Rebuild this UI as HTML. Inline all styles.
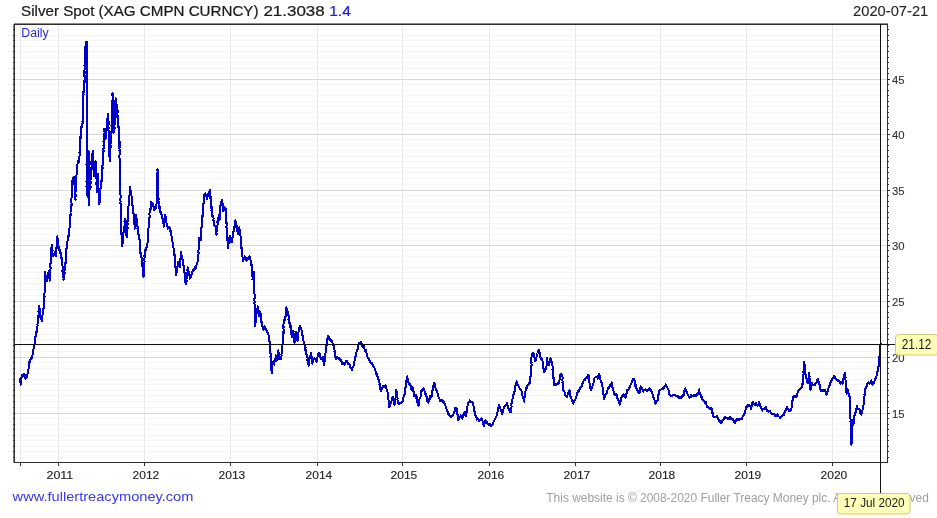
<!DOCTYPE html><html><head><meta charset="utf-8"><style>
html,body{margin:0;padding:0;background:#fff;}
body{width:937px;height:518px;overflow:hidden;position:relative;}
svg{position:absolute;left:0;top:0;}
text{font-family:"Liberation Sans",sans-serif;}
</style></head><body>
<svg width="937" height="518" viewBox="0 0 937 518">
<g shape-rendering="crispEdges">
<path d="M15 29.5H887M15 35.5H887M15 40.5H887M15 46.5H887M15 51.5H887M15 57.5H887M15 62.5H887M15 68.5H887M15 73.5H887M15 84.5H887M15 90.5H887M15 95.5H887M15 101.5H887M15 106.5H887M15 112.5H887M15 117.5H887M15 123.5H887M15 129.5H887M15 139.5H887M15 145.5H887M15 150.5H887M15 156.5H887M15 161.5H887M15 167.5H887M15 172.5H887M15 178.5H887M15 184.5H887M15 195.5H887M15 201.5H887M15 206.5H887M15 212.5H887M15 217.5H887M15 223.5H887M15 228.5H887M15 234.5H887M15 240.5H887M15 250.5H887M15 256.5H887M15 261.5H887M15 267.5H887M15 272.5H887M15 278.5H887M15 283.5H887M15 289.5H887M15 295.5H887M15 306.5H887M15 312.5H887M15 317.5H887M15 323.5H887M15 328.5H887M15 334.5H887M15 339.5H887M15 345.5H887M15 351.5H887M15 362.5H887M15 368.5H887M15 373.5H887M15 379.5H887M15 384.5H887M15 390.5H887M15 395.5H887M15 401.5H887M15 407.5H887M15 418.5H887M15 424.5H887M15 429.5H887M15 435.5H887M15 440.5H887M15 446.5H887M15 451.5H887M15 457.5H887" stroke="#f5f5f5" stroke-width="1" fill="none"/>
<path d="M20.5 25V462M58.5 25V462M144.5 25V462M230.5 25V462M317.5 25V462M402.5 25V462M489.5 25V462M575.5 25V462M660.5 25V462M746.5 25V462M832.5 25V462" stroke="#e9e9e9" stroke-width="1" fill="none"/>
<path d="M15 79.5H887M15 134.5H887M15 190.5H887M15 245.5H887M15 301.5H887M15 357.5H887M15 413.5H887" stroke="#d8d8d8" stroke-width="1" fill="none"/>
<path d="M14 23.5H888M13.5 24V463" stroke="#8a8a8a" stroke-width="1"/>
<path d="M14.5 24.5H887.5M14.5 24V462.5H887.5M887.5 24V463" stroke="#2e2e2e" stroke-width="1" fill="none"/>
<path d="M13 29.5H14M13 35.5H14M13 40.5H14M13 46.5H14M13 51.5H14M13 57.5H14M13 62.5H14M13 68.5H14M13 73.5H14M13 84.5H14M13 90.5H14M13 95.5H14M13 101.5H14M13 106.5H14M13 112.5H14M13 117.5H14M13 123.5H14M13 129.5H14M13 139.5H14M13 145.5H14M13 150.5H14M13 156.5H14M13 161.5H14M13 167.5H14M13 172.5H14M13 178.5H14M13 184.5H14M13 195.5H14M13 201.5H14M13 206.5H14M13 212.5H14M13 217.5H14M13 223.5H14M13 228.5H14M13 234.5H14M13 240.5H14M13 250.5H14M13 256.5H14M13 261.5H14M13 267.5H14M13 272.5H14M13 278.5H14M13 283.5H14M13 289.5H14M13 295.5H14M13 306.5H14M13 312.5H14M13 317.5H14M13 323.5H14M13 328.5H14M13 334.5H14M13 339.5H14M13 345.5H14M13 351.5H14M13 362.5H14M13 368.5H14M13 373.5H14M13 379.5H14M13 384.5H14M13 390.5H14M13 395.5H14M13 401.5H14M13 407.5H14M13 418.5H14M13 424.5H14M13 429.5H14M13 435.5H14M13 440.5H14M13 446.5H14M13 451.5H14M13 457.5H14M13 79.5H14M13 134.5H14M13 190.5H14M13 245.5H14M13 301.5H14M13 357.5H14M13 413.5H14" stroke="#2e2e2e" stroke-width="1"/>
<path d="M888 29.5H889M888 35.5H889M888 40.5H889M888 46.5H889M888 51.5H889M888 57.5H889M888 62.5H889M888 68.5H889M888 73.5H889M888 84.5H889M888 90.5H889M888 95.5H889M888 101.5H889M888 106.5H889M888 112.5H889M888 117.5H889M888 123.5H889M888 129.5H889M888 139.5H889M888 145.5H889M888 150.5H889M888 156.5H889M888 161.5H889M888 167.5H889M888 172.5H889M888 178.5H889M888 184.5H889M888 195.5H889M888 201.5H889M888 206.5H889M888 212.5H889M888 217.5H889M888 223.5H889M888 228.5H889M888 234.5H889M888 240.5H889M888 250.5H889M888 256.5H889M888 261.5H889M888 267.5H889M888 272.5H889M888 278.5H889M888 283.5H889M888 289.5H889M888 295.5H889M888 306.5H889M888 312.5H889M888 317.5H889M888 323.5H889M888 328.5H889M888 334.5H889M888 339.5H889M888 345.5H889M888 351.5H889M888 362.5H889M888 368.5H889M888 373.5H889M888 379.5H889M888 384.5H889M888 390.5H889M888 395.5H889M888 401.5H889M888 407.5H889M888 418.5H889M888 424.5H889M888 429.5H889M888 435.5H889M888 440.5H889M888 446.5H889M888 451.5H889M888 457.5H889M888 79.5H890M888 134.5H890M888 190.5H890M888 245.5H890M888 301.5H890M888 357.5H890M888 413.5H890" stroke="#2e2e2e" stroke-width="1"/>
<path d="M20.5 463V466M58.5 463V466M144.5 463V466M230.5 463V466M317.5 463V466M402.5 463V466M489.5 463V466M575.5 463V466M660.5 463V466M746.5 463V466M832.5 463V466" stroke="#2e2e2e" stroke-width="1"/>
</g>
<path d="M19.8 377.8 L20.0 378.1 L20.1 379.5 L20.0 380.7 L20.7 382.4 L20.4 382.8 L20.8 384.6 L21.2 382.8 L21.2 381.0 L21.2 380.6 L21.2 379.4 L21.4 377.7 L21.7 377.9 L22.0 376.6 L22.0 375.7 L22.3 375.0 L22.6 375.6 L22.8 376.2 L23.7 374.6 L23.9 374.2 L24.4 374.5 L24.7 374.6 L24.9 376.8 L25.4 378.0 L25.6 378.8 L26.1 377.0 L26.7 377.1 L26.6 377.2 L27.2 375.0 L27.5 374.0 L27.5 372.0 L28.1 371.5 L28.0 369.6 L28.4 369.1 L28.6 368.4 L28.5 367.0 L28.6 365.4 L29.0 364.3 L29.1 364.2 L29.5 361.3 L29.9 361.5 L30.3 361.6 L30.4 359.5 L31.0 359.4 L31.1 358.0 L31.7 357.0 L31.7 356.5 L32.4 357.6 L32.3 356.2 L32.6 354.3 L32.7 353.6 L33.4 353.3 L33.3 351.4 L33.2 349.7 L33.4 349.0 L33.5 349.1 L34.3 346.5 L33.9 347.1 L34.3 346.0 L34.3 344.5 L35.0 344.5 L35.0 342.4 L35.1 341.0 L35.1 339.2 L34.9 337.9 L35.3 336.1 L35.7 336.0 L35.7 336.8 L36.2 336.4 L35.9 334.7 L36.2 332.5 L36.5 330.7 L36.8 331.9 L36.7 330.7 L37.1 328.8 L37.3 327.5 L37.2 327.3 L37.8 325.4 L37.4 324.7 L37.8 322.8 L38.1 320.8 L37.8 320.7 L37.9 318.4 L38.2 317.9 L38.1 316.2 L38.6 315.3 L38.3 315.4 L38.7 315.4 L38.8 313.8 L38.6 312.4 L38.4 311.8 L38.6 310.5 L39.1 308.3 L38.9 308.2 L39.1 308.2 L39.1 305.4 L39.2 307.4 L39.4 307.7 L39.6 309.1 L39.7 309.4 L40.1 310.4 L40.2 312.6 L39.9 314.8 L40.5 315.1 L40.0 317.4 L40.4 317.0 L40.4 317.5 L40.7 319.0 L41.4 319.8 L41.7 319.4 L42.0 321.0 L42.4 320.8 L42.2 317.3 L42.3 317.9 L42.4 315.0 L42.3 315.2 L42.7 314.7 L42.8 311.8 L43.0 312.0 L42.9 309.7 L43.6 308.3 L43.3 309.3 L43.9 306.9 L43.9 306.9 L43.6 303.2 L44.0 303.6 L44.5 301.0 L44.3 301.6 L44.1 300.2 L44.2 299.2 L44.2 296.4 L44.3 296.1 L44.4 296.2 L44.5 297.2 L44.5 296.0 L44.4 294.1 L44.5 292.9 L44.9 292.0 L44.9 290.0 L44.6 288.2 L45.1 287.9 L44.7 287.8 L45.1 286.4 L45.0 287.9 L44.7 285.0 L44.9 283.1 L44.9 282.0 L45.2 280.9 L44.9 282.4 L45.2 279.0 L44.8 276.9 L44.8 274.7 L44.9 275.9 L44.9 274.1 L44.7 272.0 L44.9 272.1 L45.3 274.0 L45.7 275.4 L45.5 275.8 L45.7 278.5 L46.3 278.8 L46.6 277.8 L46.7 281.5 L46.9 280.8 L47.4 279.9 L47.5 279.2 L47.2 276.1 L47.6 275.4 L48.2 275.0 L48.3 274.4 L48.5 273.7 L48.2 272.9 L48.8 271.1 L48.7 273.3 L49.4 273.7 L49.1 273.6 L49.4 274.8 L49.4 276.7 L49.2 277.5 L49.4 277.3 L49.6 279.8 L49.8 280.8 L49.8 278.6 L50.2 279.7 L49.8 277.6 L50.3 276.3 L50.1 275.4 L50.2 273.8 L49.9 274.2 L50.3 272.6 L50.4 271.3 L50.6 267.9 L50.1 267.5 L50.5 264.8 L50.4 265.1 L50.5 263.4 L50.9 262.6 L50.7 263.4 L51.0 260.8 L51.1 261.1 L50.7 259.8 L50.7 259.5 L51.3 257.7 L51.3 258.8 L51.4 256.4 L51.2 256.5 L50.9 254.3 L51.3 252.8 L51.4 252.0 L51.1 250.2 L51.2 250.9 L51.4 247.9 L51.7 246.7 L51.5 247.4 L51.7 245.0 L52.1 247.0 L51.6 246.3 L51.7 246.0 L51.8 247.3 L52.0 248.2 L52.6 250.5 L52.3 252.5 L52.5 253.8 L52.5 254.3 L52.7 255.7 L52.9 256.4 L53.3 254.1 L53.8 254.0 L54.5 254.7 L54.6 251.8 L55.2 251.7 L55.4 255.6 L55.9 255.7 L56.2 253.4 L56.4 253.0 L56.0 252.2 L56.1 250.6 L56.5 251.7 L56.1 248.1 L56.6 248.9 L56.4 247.5 L56.4 247.4 L56.8 245.8 L57.0 245.9 L56.9 244.6 L56.9 242.6 L57.3 243.5 L56.9 240.0 L57.4 238.8 L57.2 236.9 L57.5 236.4 L57.4 237.1 L57.6 238.8 L57.6 239.8 L58.1 239.5 L58.3 240.8 L57.9 243.4 L58.1 243.8 L58.6 246.2 L58.3 246.4 L58.5 247.9 L58.9 246.9 L59.6 251.0 L59.8 249.9 L60.1 253.3 L60.9 252.8 L61.0 253.7 L61.0 254.3 L61.0 257.4 L61.2 258.3 L61.7 257.3 L61.6 259.6 L61.8 258.9 L61.9 261.5 L61.8 262.2 L62.2 264.2 L62.4 264.2 L62.2 265.7 L62.6 266.4 L62.6 270.1 L62.3 271.2 L62.7 269.5 L63.2 273.2 L62.8 272.7 L63.1 273.8 L62.9 276.5 L63.4 277.3 L63.6 278.8 L63.4 279.1 L63.5 279.4 L63.7 279.8 L63.5 277.7 L64.0 275.5 L64.1 276.0 L64.2 274.1 L64.5 273.7 L64.8 272.7 L64.4 271.7 L64.6 270.8 L64.8 267.9 L64.9 268.2 L65.2 267.3 L65.1 264.1 L65.4 265.6 L65.4 264.9 L65.5 264.4 L65.8 262.6 L65.4 263.2 L65.8 260.9 L65.7 257.4 L65.7 257.3 L66.1 256.2 L65.9 256.4 L66.0 253.8 L66.0 254.0 L66.1 252.2 L66.4 252.6 L66.2 248.4 L66.6 248.6 L66.4 249.0 L66.9 245.5 L66.8 246.0 L67.4 246.0 L67.0 242.9 L67.2 243.0 L67.9 239.1 L68.1 240.5 L68.3 238.9 L68.0 238.6 L68.5 235.6 L68.7 236.4 L69.1 235.4 L68.7 231.3 L69.4 233.3 L68.8 231.3 L69.2 231.1 L69.4 230.5 L69.2 229.4 L69.4 228.6 L69.9 224.9 L69.6 225.0 L69.8 222.5 L70.0 222.8 L70.1 221.4 L70.0 220.4 L70.3 219.0 L70.4 218.3 L70.4 217.1 L70.6 213.3 L70.4 214.6 L70.9 214.7 L70.5 212.6 L70.6 211.4 L70.9 209.4 L71.0 209.3 L70.8 210.5 L71.4 209.7 L71.4 208.2 L71.5 205.5 L71.5 205.4 L71.0 205.8 L71.6 204.3 L71.3 199.8 L71.2 201.0 L71.3 200.6 L71.5 197.7 L71.8 195.4 L71.6 194.3 L71.6 194.6 L71.8 192.8 L72.1 190.6 L72.2 188.0 L71.8 189.2 L71.8 188.1 L72.1 187.6 L72.3 184.7 L71.9 184.0 L71.9 184.8 L72.1 185.4 L72.3 182.5 L72.4 180.6 L72.9 178.4 L73.5 179.1 L73.9 177.9 L73.7 177.5 L74.2 176.5 L74.3 180.1 L74.1 179.8 L74.4 179.8 L74.3 182.7 L74.4 183.9 L74.7 186.6 L74.9 185.1 L74.7 186.0 L74.6 188.7 L75.0 188.6 L75.0 190.4 L74.8 194.2 L75.2 192.4 L75.3 193.9 L75.0 195.4 L75.2 195.8 L75.4 198.7 L75.7 199.6 L75.3 199.0 L75.5 197.5 L75.6 196.0 L75.7 194.4 L75.4 195.7 L75.3 194.2 L75.5 190.1 L76.1 190.6 L75.7 188.7 L75.7 188.0 L76.2 185.0 L76.1 185.2 L76.3 184.3 L76.0 182.0 L76.4 180.5 L75.9 178.9 L75.9 176.9 L76.4 177.7 L76.5 175.2 L76.5 170.7 L76.7 171.1 L76.8 171.1 L76.9 167.0 L77.0 169.2 L76.5 166.1 L76.5 166.4 L77.1 168.8 L77.2 167.0 L77.0 165.5 L77.2 165.4 L77.7 162.6 L78.0 161.1 L78.5 162.4 L78.7 162.1 L78.8 158.9 L79.2 158.6 L79.3 157.4 L79.1 157.7 L79.5 156.0 L79.8 154.6 L79.9 153.0 L79.4 152.3 L79.6 152.4 L79.8 149.6 L79.9 148.5 L80.0 150.0 L79.7 146.6 L79.7 145.6 L79.6 146.5 L79.6 144.1 L79.8 140.5 L80.0 142.5 L80.0 140.8 L80.3 139.1 L80.2 137.2 L80.5 138.6 L80.5 135.8 L80.5 136.4 L80.7 132.2 L81.2 133.2 L80.8 128.7 L81.1 127.6 L81.1 128.2 L81.2 127.1 L81.6 128.0 L81.8 125.4 L82.3 126.5 L82.3 124.8 L82.6 122.8 L82.4 121.9 L82.9 123.2 L82.8 122.9 L82.8 122.6 L82.7 120.5 L82.8 118.3 L82.7 115.1 L82.9 117.9 L82.6 115.9 L82.8 113.1 L82.8 112.3 L83.1 110.8 L83.0 108.4 L82.8 110.8 L83.2 107.5 L83.0 105.3 L83.1 105.6 L83.0 107.4 L83.0 101.6 L83.0 101.6 L83.4 97.7 L82.9 97.5 L83.2 95.0 L83.3 92.8 L83.6 94.2 L83.3 92.1 L83.8 88.8 L83.7 92.2 L84.0 88.4 L83.6 89.6 L84.1 86.4 L84.0 88.0 L83.9 86.9 L83.9 84.9 L84.3 80.8 L84.0 81.3 L84.2 80.7 L84.3 82.5 L84.2 81.8 L84.5 83.0 L84.5 78.8 L84.6 80.0 L84.6 74.8 L84.1 76.2 L84.8 71.9 L84.3 73.7 L84.3 70.6 L84.8 69.4 L84.6 70.0 L84.8 68.7 L84.9 67.1 L84.5 67.3 L84.5 66.3 L84.4 65.7 L84.5 65.7 L84.8 66.7 L85.1 64.8 L85.1 60.5 L84.9 60.8 L85.2 59.1 L84.9 57.4 L84.7 57.5 L85.0 55.0 L85.0 55.7 L84.8 56.0 L85.2 53.3 L85.5 52.1 L85.2 51.7 L85.5 50.9 L85.3 46.6 L85.4 46.0 L85.5 48.3 L85.5 44.0 L86.1 42.9 L85.9 41.6 L86.6 41.6 L86.8 42.4 L86.7 43.2 L86.7 42.4 L86.7 44.6 L86.5 45.1 L86.7 47.3 L86.4 47.6 L86.4 44.6 L87.0 49.9 L86.7 50.8 L87.0 53.5 L86.6 52.4 L86.8 53.0 L86.8 54.3 L87.2 57.5 L86.9 55.7 L86.9 60.0 L87.1 61.0 L87.2 61.6 L87.2 61.8 L86.6 65.3 L87.0 62.0 L86.6 67.4 L87.1 65.6 L87.2 66.9 L86.6 69.4 L87.0 68.0 L87.1 68.2 L87.2 68.8 L87.1 70.7 L86.9 72.5 L87.2 72.6 L87.2 75.7 L86.8 74.5 L87.3 73.2 L87.2 77.2 L87.1 77.9 L87.2 81.8 L86.9 82.8 L87.3 84.6 L87.2 86.9 L87.3 89.8 L86.9 91.9 L86.9 89.3 L87.1 92.1 L87.3 94.2 L87.3 91.6 L87.3 95.5 L86.9 96.8 L87.3 99.5 L87.4 99.4 L86.8 97.1 L87.3 98.9 L87.1 99.3 L87.0 101.8 L87.3 104.8 L87.4 105.8 L86.8 104.2 L86.8 104.0 L86.7 103.7 L87.3 106.0 L87.4 106.7 L86.7 109.5 L87.0 110.5 L87.4 109.8 L87.1 110.4 L87.3 114.2 L86.9 116.1 L86.8 116.2 L87.3 118.7 L86.7 115.1 L86.9 115.4 L87.3 119.7 L86.7 119.8 L87.1 119.5 L87.3 120.0 L86.7 118.8 L87.3 123.1 L86.8 124.3 L87.1 126.0 L86.8 124.3 L86.7 126.7 L86.7 127.8 L86.7 128.3 L86.6 131.2 L86.7 132.6 L87.2 131.5 L87.2 133.2 L87.2 137.8 L86.8 136.5 L87.2 137.4 L87.0 140.9 L86.7 139.7 L86.8 141.7 L86.6 141.7 L86.5 141.0 L86.9 146.4 L87.1 145.6 L86.8 147.7 L86.7 147.5 L86.7 150.7 L86.8 150.0 L86.6 152.0 L86.5 151.2 L86.8 153.3 L86.6 154.3 L86.9 157.9 L86.9 160.8 L86.5 160.8 L86.7 164.1 L86.5 164.6 L86.7 165.3 L87.1 165.6 L86.5 165.2 L86.8 167.5 L86.6 168.7 L87.0 165.5 L86.6 168.6 L86.9 171.1 L86.8 170.6 L86.8 173.5 L87.0 173.4 L87.1 177.0 L86.9 175.8 L87.0 176.8 L87.1 175.8 L86.8 180.0 L86.8 179.2 L86.5 180.3 L86.6 182.0 L86.5 180.0 L87.0 181.1 L86.5 181.5 L86.6 184.0 L86.9 182.6 L86.8 186.2 L86.5 187.9 L87.0 189.0 L86.5 186.4 L86.8 188.7 L86.5 189.2 L86.8 192.0 L87.3 191.9 L87.4 195.6 L88.0 195.0 L88.0 196.7 L88.1 197.1 L88.7 197.9 L88.8 200.1 L88.9 202.1 L88.8 201.5 L89.2 205.3 L89.0 204.0 L89.1 202.7 L89.0 204.8 L89.0 202.1 L88.7 201.7 L88.7 198.8 L88.9 198.2 L88.8 197.2 L89.0 194.8 L89.0 196.8 L89.0 195.3 L89.1 193.1 L89.0 194.3 L88.9 193.6 L88.7 192.6 L88.9 190.9 L89.0 191.1 L88.8 187.5 L88.7 189.7 L88.9 187.5 L89.2 185.3 L89.1 183.9 L88.6 182.3 L88.8 183.3 L88.8 178.0 L89.0 178.0 L88.6 175.5 L89.0 177.1 L88.7 172.6 L88.9 172.3 L89.1 172.8 L88.8 172.4 L88.8 170.0 L89.1 171.4 L88.7 169.9 L88.8 167.3 L88.7 167.7 L88.9 164.9 L88.7 164.4 L89.1 164.0 L88.9 162.6 L88.8 160.4 L89.0 159.6 L88.6 160.5 L88.8 161.1 L89.2 159.1 L88.8 156.9 L89.3 154.2 L88.7 151.2 L89.0 152.0 L89.1 152.2 L89.3 153.9 L89.1 158.0 L89.2 156.8 L89.1 157.7 L89.4 156.7 L89.1 155.8 L89.5 160.2 L89.0 159.5 L89.5 161.7 L89.7 162.2 L89.4 164.7 L89.3 162.2 L89.5 166.4 L89.3 166.2 L89.6 168.5 L89.6 170.0 L90.0 171.6 L89.6 171.5 L89.4 172.7 L89.4 176.0 L89.5 174.5 L90.0 176.1 L90.0 178.1 L89.5 176.9 L89.7 181.5 L89.8 183.0 L89.7 182.2 L90.2 183.5 L89.9 185.5 L89.9 185.9 L90.3 185.2 L90.4 187.2 L90.2 187.8 L90.1 189.0 L90.1 188.2 L90.0 188.9 L90.6 186.8 L90.6 187.7 L90.2 185.3 L90.3 184.2 L90.4 186.9 L90.4 184.7 L90.6 183.1 L90.5 180.3 L91.1 177.2 L90.8 175.4 L91.0 175.0 L91.4 173.1 L90.9 173.7 L90.9 172.4 L91.0 172.5 L91.3 171.8 L91.1 168.2 L91.2 168.7 L91.2 169.6 L91.5 167.7 L91.7 166.0 L91.7 165.6 L91.5 164.9 L91.4 161.8 L92.0 160.5 L91.9 160.1 L91.9 157.8 L91.9 157.0 L91.6 156.6 L92.0 155.0 L92.5 153.0 L92.5 151.4 L92.9 150.8 L92.6 151.2 L92.8 152.0 L93.0 154.7 L92.9 153.8 L92.9 157.5 L93.2 159.7 L93.0 161.4 L93.4 161.6 L93.0 162.0 L93.5 164.3 L93.1 162.4 L93.5 166.1 L93.3 164.0 L93.7 164.7 L93.9 166.5 L93.3 169.0 L93.6 169.6 L93.9 170.5 L93.5 171.0 L93.8 175.7 L94.0 176.5 L93.9 174.8 L93.7 174.7 L94.3 172.2 L94.2 169.0 L94.3 170.1 L94.1 168.7 L94.3 166.3 L94.2 165.8 L94.3 164.9 L94.6 165.0 L94.7 163.0 L95.2 162.9 L95.5 160.9 L95.8 163.5 L95.5 161.8 L95.5 163.2 L95.6 164.5 L95.9 166.5 L95.6 169.2 L95.9 169.0 L95.7 171.3 L95.7 169.9 L96.2 173.9 L96.3 172.1 L96.2 177.3 L96.2 174.4 L96.3 176.3 L96.2 178.3 L96.5 177.3 L96.7 180.8 L96.7 179.6 L96.7 184.0 L96.4 182.9 L96.5 184.7 L96.7 183.1 L97.0 184.0 L96.5 184.3 L96.9 186.6 L97.0 189.1 L97.3 191.8 L97.0 191.8 L97.3 191.2 L97.0 190.1 L97.3 187.8 L97.1 188.1 L97.2 186.3 L97.5 186.4 L97.1 186.2 L97.4 182.7 L97.3 180.9 L97.2 179.3 L97.5 179.0 L97.9 180.5 L98.0 178.8 L97.8 178.4 L97.4 176.9 L97.8 174.8 L98.0 174.0 L98.0 175.4 L98.0 176.4 L98.0 179.0 L97.9 179.3 L98.2 183.0 L98.5 181.0 L98.0 182.2 L98.1 183.6 L98.4 185.8 L98.5 186.5 L98.5 187.3 L98.2 189.9 L98.6 190.0 L98.7 192.4 L98.5 193.0 L98.5 192.9 L98.7 192.6 L98.9 191.9 L98.8 193.3 L98.9 196.1 L99.1 197.5 L99.1 199.6 L99.4 200.8 L99.4 200.3 L99.4 202.8 L99.3 204.1 L99.7 202.3 L99.3 203.0 L99.5 199.4 L99.7 201.4 L99.3 198.6 L100.0 197.7 L99.9 195.6 L100.0 195.2 L99.7 194.5 L100.1 195.2 L100.4 193.7 L99.9 192.7 L100.3 190.0 L100.2 188.7 L100.5 189.4 L100.8 187.0 L100.7 183.2 L101.3 182.7 L100.8 182.9 L101.2 181.0 L101.5 182.2 L101.5 180.6 L101.7 179.4 L101.9 179.9 L101.7 177.9 L102.2 178.4 L102.1 178.1 L102.2 172.6 L102.1 173.7 L102.1 172.7 L102.2 171.5 L102.2 168.4 L102.8 167.9 L102.4 167.3 L102.4 166.3 L102.4 165.6 L103.0 164.3 L102.7 163.1 L102.7 162.2 L102.6 159.9 L102.9 159.4 L103.1 158.7 L103.0 158.0 L103.2 156.3 L102.9 153.4 L103.2 153.0 L103.2 153.6 L103.2 151.9 L103.7 151.9 L103.3 149.1 L103.9 147.4 L103.4 145.0 L104.0 145.9 L103.5 141.7 L103.9 140.8 L104.0 143.3 L103.7 142.9 L104.0 140.8 L104.1 138.6 L104.0 137.9 L103.9 137.4 L104.3 137.6 L104.1 136.0 L104.6 133.0 L104.2 130.1 L104.3 129.0 L104.4 130.6 L104.7 130.7 L104.8 128.6 L104.8 130.3 L105.4 131.6 L105.0 130.8 L105.6 132.3 L105.0 131.8 L105.6 134.4 L105.5 137.1 L105.5 139.0 L105.8 138.3 L105.7 134.5 L106.3 135.9 L105.7 132.2 L105.9 134.0 L106.2 133.9 L106.2 132.3 L106.3 132.3 L106.7 128.9 L106.7 126.8 L106.7 126.3 L106.7 126.7 L106.8 123.1 L106.7 122.7 L107.2 124.6 L107.5 121.8 L107.3 118.7 L107.7 118.2 L107.4 121.0 L107.9 118.8 L107.7 115.7 L107.9 116.0 L108.1 113.8 L107.7 114.6 L107.7 118.5 L108.3 119.1 L108.4 120.8 L107.8 122.2 L108.4 118.6 L107.9 120.5 L108.1 121.1 L108.0 123.3 L108.7 121.6 L108.6 124.8 L108.4 125.2 L108.4 125.8 L108.6 128.6 L108.7 127.4 L108.3 129.7 L108.6 130.1 L108.5 135.0 L109.0 134.5 L108.7 138.3 L108.6 139.3 L109.1 141.5 L108.8 141.8 L108.6 143.1 L108.6 147.1 L109.3 146.9 L109.1 147.1 L108.9 149.7 L108.9 150.5 L109.4 153.4 L108.9 155.5 L109.1 155.8 L109.4 157.0 L109.7 156.6 L109.6 155.6 L109.5 159.2 L109.9 159.2 L109.6 158.2 L109.5 159.4 L109.6 161.4 L109.7 161.0 L109.5 158.0 L109.8 159.7 L109.9 156.9 L109.8 156.6 L110.2 152.6 L110.2 152.1 L110.4 152.8 L109.9 153.1 L110.5 150.2 L110.1 152.7 L110.2 148.1 L110.4 147.2 L110.6 148.2 L110.6 146.0 L110.3 144.5 L110.8 143.2 L110.6 139.8 L110.7 143.4 L110.8 140.8 L110.7 141.4 L111.3 138.5 L111.1 136.2 L111.3 137.9 L110.9 135.1 L111.2 134.4 L111.3 134.1 L111.6 131.6 L111.4 132.4 L111.6 130.0 L111.8 130.8 L111.5 126.4 L111.9 126.1 L111.4 125.8 L111.8 127.4 L111.9 124.9 L111.8 126.6 L111.9 122.0 L111.9 123.6 L112.1 125.0 L111.6 123.9 L111.9 120.8 L112.3 117.7 L111.8 117.0 L111.8 116.1 L112.1 118.7 L112.0 115.6 L111.9 113.9 L112.3 116.6 L111.9 114.8 L111.8 111.4 L112.1 112.4 L112.2 110.5 L112.1 108.3 L112.0 108.7 L112.3 107.4 L112.2 103.2 L112.3 102.8 L112.2 102.0 L112.6 99.2 L112.5 97.2 L112.5 98.3 L112.8 96.1 L112.7 94.7 L112.5 93.1 L112.4 95.4 L112.8 98.2 L112.9 98.5 L113.2 98.7 L113.0 98.3 L113.3 100.0 L113.4 100.8 L113.3 100.8 L113.3 101.8 L113.3 105.2 L113.0 106.4 L113.1 108.2 L113.7 110.1 L113.3 109.2 L113.2 106.5 L113.3 110.1 L113.1 111.8 L113.6 112.8 L113.4 114.2 L113.1 112.6 L113.6 115.7 L113.2 119.6 L113.0 122.5 L113.7 122.6 L113.7 122.4 L113.0 125.3 L113.3 124.4 L113.5 124.7 L113.6 125.0 L113.1 126.4 L113.1 129.2 L113.6 129.8 L113.4 131.3 L113.4 129.6 L113.5 131.6 L113.5 130.6 L113.4 133.0 L113.6 132.5 L114.3 130.0 L114.5 129.6 L114.6 127.8 L114.3 127.9 L114.4 125.3 L114.4 127.4 L114.2 128.3 L114.4 125.0 L114.8 124.0 L114.4 123.4 L114.8 120.5 L114.4 121.9 L114.9 118.1 L114.7 117.6 L114.8 116.9 L114.6 116.7 L114.9 116.0 L114.7 113.3 L115.2 110.5 L114.8 111.0 L114.8 108.5 L114.9 107.4 L115.5 106.7 L115.4 108.6 L115.3 105.2 L115.6 106.9 L115.4 103.7 L115.5 100.0 L115.6 103.4 L115.6 99.1 L115.5 98.0 L116.0 101.2 L116.3 100.0 L116.2 103.2 L116.4 104.8 L116.1 105.5 L116.6 107.8 L116.7 104.2 L116.2 106.5 L116.3 107.9 L116.8 110.0 L116.7 110.7 L116.7 109.9 L116.7 112.4 L116.6 113.0 L117.0 111.3 L117.1 110.3 L117.4 110.8 L117.4 108.0 L117.4 110.1 L117.7 112.0 L117.6 110.8 L117.8 111.9 L117.4 113.6 L117.5 118.3 L117.9 115.5 L117.9 117.4 L117.7 117.0 L117.7 120.1 L117.5 121.8 L117.5 121.3 L117.5 122.3 L118.1 121.4 L118.1 123.2 L117.9 125.0 L118.1 127.6 L118.7 126.4 L118.7 130.0 L118.8 130.0 L119.0 131.1 L119.0 134.2 L119.3 135.4 L119.3 136.1 L119.4 136.2 L119.3 134.8 L119.2 140.2 L119.4 140.3 L119.3 141.0 L119.4 142.8 L119.3 145.1 L119.8 142.2 L119.8 144.6 L119.7 147.3 L119.3 146.4 L119.5 149.1 L119.7 149.2 L119.4 150.8 L119.9 150.8 L119.5 154.0 L119.5 155.0 L119.3 157.2 L119.7 159.3 L120.0 158.4 L119.5 159.0 L119.7 158.4 L119.9 162.8 L120.0 162.2 L119.6 161.6 L120.1 164.8 L119.9 165.2 L119.7 166.0 L120.0 167.5 L119.8 167.4 L119.7 170.0 L120.1 169.2 L119.9 170.5 L120.2 170.7 L119.8 171.0 L119.9 171.6 L120.2 173.2 L120.0 174.8 L120.0 175.3 L120.2 174.6 L120.2 177.0 L120.1 175.9 L120.0 178.5 L120.3 180.7 L120.3 181.9 L120.3 182.9 L120.2 181.8 L120.2 184.9 L119.8 183.9 L120.4 186.1 L119.9 186.2 L119.9 186.9 L120.5 190.3 L120.1 193.8 L120.2 193.3 L120.2 194.4 L120.3 194.8 L120.5 195.0 L120.5 198.0 L120.2 199.7 L120.1 200.7 L120.2 200.2 L120.6 201.4 L120.4 203.8 L120.3 203.7 L120.4 203.7 L120.7 203.5 L120.6 206.6 L120.8 206.8 L120.5 208.0 L120.8 210.4 L120.9 212.2 L121.0 212.6 L120.9 212.3 L120.6 211.8 L121.1 212.7 L121.0 217.1 L120.8 216.8 L121.0 218.6 L120.8 222.5 L120.8 219.5 L121.3 222.5 L121.0 225.1 L120.8 224.4 L121.3 225.6 L121.5 227.4 L121.4 229.8 L121.2 228.6 L121.5 230.0 L121.0 228.0 L121.4 229.6 L121.1 231.5 L121.7 234.2 L121.3 233.6 L121.7 235.8 L121.6 234.6 L122.0 237.9 L121.9 240.0 L121.7 240.5 L121.9 243.5 L122.1 240.7 L121.9 242.6 L122.2 244.8 L122.2 246.0 L122.3 245.2 L122.7 242.1 L122.2 242.0 L123.0 239.9 L122.7 239.2 L123.1 240.0 L123.1 238.6 L122.8 235.4 L123.4 237.6 L123.0 233.5 L123.7 232.4 L123.5 232.5 L123.8 231.0 L123.8 229.7 L124.1 229.0 L124.3 230.9 L124.4 226.3 L124.5 227.1 L124.5 225.2 L124.8 224.2 L124.4 221.2 L124.7 221.3 L124.6 219.1 L125.1 219.0 L124.9 221.2 L125.1 220.8 L125.1 223.2 L125.8 224.4 L125.2 225.2 L125.4 223.9 L125.8 227.1 L125.8 227.6 L126.0 228.1 L126.3 229.8 L126.3 231.4 L126.4 234.0 L125.9 234.4 L126.6 235.4 L126.7 236.0 L126.8 236.3 L126.6 237.3 L126.9 234.6 L127.0 235.2 L126.8 234.0 L127.1 231.2 L127.0 230.3 L127.0 229.7 L126.8 231.0 L127.2 228.8 L127.5 228.5 L127.5 226.8 L127.6 227.4 L127.2 223.9 L127.7 224.3 L127.3 220.5 L127.9 221.5 L127.6 218.1 L127.8 218.5 L127.9 218.2 L127.6 215.8 L128.0 214.0 L127.8 214.4 L128.0 213.2 L128.1 211.9 L128.3 213.5 L128.5 209.4 L128.2 207.6 L128.5 206.2 L128.6 205.9 L128.5 204.9 L128.8 204.9 L128.6 203.7 L128.9 202.7 L129.4 201.6 L129.3 199.7 L129.3 200.2 L129.5 197.6 L129.2 195.6 L129.8 193.9 L129.9 193.7 L129.8 193.3 L129.9 191.1 L129.7 189.7 L129.6 189.5 L130.1 187.2 L129.9 186.6 L130.0 186.6 L130.4 188.4 L130.0 187.6 L130.3 189.7 L130.9 191.5 L130.6 190.9 L130.9 193.9 L131.2 193.8 L131.1 194.0 L131.6 196.2 L131.8 197.7 L131.9 201.0 L131.8 199.4 L131.9 203.0 L132.1 201.6 L132.3 205.4 L132.2 204.9 L132.5 206.2 L132.8 205.2 L132.8 207.4 L132.8 209.3 L132.8 210.2 L133.2 209.2 L132.9 213.2 L133.0 211.8 L133.1 213.6 L133.6 213.8 L133.9 215.6 L133.8 215.4 L134.1 215.8 L133.8 217.6 L134.3 219.5 L134.4 219.6 L133.9 221.0 L134.0 223.5 L134.3 224.2 L134.7 222.1 L134.4 224.1 L134.7 226.1 L134.7 228.6 L135.2 225.7 L134.7 225.1 L135.2 225.0 L134.9 225.5 L135.1 223.1 L135.5 223.7 L135.9 221.8 L136.0 221.3 L135.7 221.6 L136.0 219.3 L136.5 214.7 L136.3 215.1 L136.2 215.3 L136.6 218.2 L136.9 219.8 L136.5 221.2 L137.1 219.9 L136.7 223.8 L136.9 225.0 L137.1 223.9 L137.4 226.2 L137.6 226.5 L137.5 228.4 L137.6 228.6 L137.6 229.9 L138.2 231.9 L138.2 230.1 L138.2 234.6 L138.9 234.4 L138.6 237.0 L139.0 236.4 L139.2 236.9 L139.0 237.6 L138.9 238.3 L139.1 239.0 L139.8 239.4 L139.8 241.9 L139.8 242.7 L140.1 244.4 L140.0 244.2 L139.8 245.6 L140.1 247.7 L140.4 249.1 L140.0 250.1 L140.3 249.7 L140.2 253.6 L140.5 253.7 L140.7 253.0 L141.4 254.4 L141.4 257.6 L142.1 257.6 L142.1 260.2 L142.0 261.3 L142.4 263.8 L142.1 262.2 L142.4 264.5 L142.3 266.1 L142.8 267.0 L142.7 266.5 L142.9 267.3 L143.0 270.0 L142.6 269.5 L143.0 271.8 L142.8 271.3 L142.8 273.7 L143.0 274.2 L143.2 273.5 L143.5 275.1 L143.4 276.9 L143.5 275.6 L143.2 275.0 L143.3 275.4 L143.9 276.1 L143.5 273.3 L143.8 270.8 L143.7 270.1 L143.9 268.9 L143.7 268.3 L144.0 265.9 L143.9 265.9 L144.0 265.2 L144.2 263.5 L144.5 264.0 L144.3 262.3 L144.7 261.9 L144.2 259.8 L144.6 257.1 L144.3 255.8 L145.0 256.4 L144.7 252.7 L144.8 253.7 L145.5 250.9 L145.4 249.3 L145.6 251.1 L145.9 248.4 L146.6 247.5 L146.7 247.7 L147.3 246.0 L147.2 244.6 L147.4 243.6 L147.3 245.6 L147.5 243.4 L147.9 240.3 L147.5 239.9 L148.1 239.2 L148.0 239.7 L148.2 235.7 L148.3 236.2 L148.0 237.1 L148.4 236.6 L148.2 232.7 L148.3 230.2 L148.2 229.3 L148.8 227.1 L148.7 226.2 L148.8 225.4 L149.0 222.4 L149.2 222.9 L149.1 221.1 L148.8 220.6 L149.0 220.4 L148.9 220.6 L149.2 219.0 L149.5 216.9 L149.7 217.2 L149.5 214.6 L149.4 213.1 L149.5 213.1 L149.8 212.6 L149.8 209.4 L150.0 210.4 L150.3 209.5 L150.8 209.2 L150.7 206.1 L150.7 206.2 L151.0 206.5 L151.2 203.9 L150.8 203.1 L151.2 201.6 L151.4 202.6 L151.9 202.5 L152.5 205.3 L153.0 203.9 L153.1 205.5 L153.2 206.5 L154.1 208.2 L154.1 209.8 L154.8 207.4 L155.0 209.3 L155.4 208.1 L155.5 206.3 L155.8 208.1 L156.2 204.7 L156.2 206.1 L156.1 204.9 L156.6 204.1 L157.0 201.2 L157.0 199.7 L156.8 199.5 L157.3 197.8 L157.1 196.8 L157.2 197.8 L157.2 197.0 L157.3 193.0 L156.8 194.4 L157.1 195.1 L156.9 190.1 L157.3 190.1 L157.2 186.8 L157.6 187.3 L157.4 185.2 L157.0 183.1 L157.2 181.0 L157.1 180.8 L157.1 178.8 L157.1 177.6 L157.3 178.1 L157.3 176.0 L157.7 176.4 L157.7 175.4 L157.2 174.5 L157.2 174.7 L157.1 172.4 L157.8 173.1 L157.4 170.0 L157.4 169.3 L157.5 169.2 L157.7 171.4 L157.7 171.0 L157.9 172.1 L157.5 175.2 L157.3 175.1 L157.8 178.8 L157.5 177.5 L157.7 179.4 L158.0 179.6 L157.7 181.5 L157.8 185.5 L157.6 184.7 L157.9 185.0 L157.6 187.9 L157.7 186.6 L158.1 187.4 L157.7 189.1 L158.1 187.8 L157.9 190.0 L158.3 190.0 L157.9 192.6 L158.5 195.5 L158.0 195.5 L158.6 198.2 L158.8 199.2 L158.3 198.7 L158.4 200.1 L158.9 203.4 L158.7 202.8 L159.1 204.1 L159.4 206.5 L159.5 205.2 L159.2 207.8 L159.2 207.1 L159.5 207.4 L160.0 207.3 L160.2 209.4 L160.2 212.1 L161.0 212.1 L161.1 213.0 L161.5 215.1 L161.8 215.1 L162.0 216.5 L162.4 215.3 L162.4 218.6 L162.7 219.5 L163.0 220.4 L163.1 222.6 L162.9 222.5 L163.0 222.8 L163.6 224.6 L163.8 225.7 L163.7 226.7 L163.5 226.7 L164.2 226.3 L164.3 222.4 L164.5 221.9 L164.3 221.6 L164.2 221.2 L164.4 220.2 L164.5 217.9 L164.9 219.5 L164.9 217.2 L165.2 215.1 L165.5 215.9 L165.8 217.3 L166.1 217.9 L166.3 219.2 L165.9 220.5 L166.2 222.1 L166.3 222.7 L166.8 224.3 L166.7 223.7 L167.1 225.5 L167.6 227.5 L167.6 228.6 L168.0 228.3 L168.5 228.3 L169.0 227.3 L168.9 226.5 L169.5 226.7 L169.8 228.9 L170.2 230.2 L170.2 229.9 L170.4 231.9 L171.0 231.3 L171.1 234.3 L171.0 235.5 L171.7 236.3 L172.0 238.5 L172.0 237.2 L172.1 239.0 L172.4 240.2 L172.5 242.3 L173.1 243.9 L173.0 242.9 L173.0 245.9 L173.1 246.0 L173.2 245.6 L173.5 247.7 L173.8 249.4 L174.1 251.2 L174.4 250.4 L174.3 251.8 L174.0 253.0 L174.4 251.6 L174.4 255.9 L174.3 255.2 L175.0 255.3 L175.1 257.5 L174.7 256.4 L175.3 259.4 L175.4 260.3 L175.5 263.4 L175.2 265.2 L175.3 267.6 L175.2 267.5 L175.9 268.9 L175.8 267.6 L175.5 269.1 L176.0 270.9 L176.3 272.9 L176.1 273.6 L175.9 272.5 L176.2 274.6 L176.3 275.0 L176.5 272.9 L176.3 271.6 L176.6 271.7 L176.8 271.9 L176.9 271.1 L177.2 268.3 L177.3 267.2 L177.4 266.6 L178.0 265.6 L177.9 264.5 L178.1 264.1 L178.2 261.5 L178.4 262.2 L179.3 263.5 L179.1 264.0 L179.6 265.2 L180.1 267.3 L180.3 267.1 L180.0 265.9 L180.3 264.6 L180.1 263.0 L180.1 262.6 L180.5 259.6 L180.3 258.3 L181.0 258.9 L180.6 255.9 L180.6 256.0 L181.0 254.6 L180.7 254.1 L181.1 252.0 L181.1 251.8 L181.2 253.9 L181.7 256.5 L181.5 256.0 L181.7 257.6 L182.3 259.5 L182.7 259.8 L182.7 259.2 L182.5 262.0 L183.0 261.5 L182.8 261.0 L183.5 263.0 L183.3 265.0 L183.7 265.2 L183.7 265.5 L183.9 267.4 L184.0 267.7 L184.1 267.2 L184.1 268.7 L184.3 270.8 L184.3 272.3 L184.6 272.4 L184.7 274.7 L184.6 276.5 L184.8 277.6 L185.3 278.6 L185.3 280.2 L185.7 280.6 L185.4 282.2 L185.6 282.2 L186.0 283.7 L185.9 284.6 L185.7 282.1 L185.8 281.5 L186.3 282.3 L186.7 281.1 L186.3 280.2 L186.3 278.3 L186.9 277.9 L186.8 276.8 L187.0 275.2 L187.4 275.1 L187.5 274.5 L187.3 273.4 L187.8 271.6 L187.3 269.6 L188.0 268.3 L187.8 267.3 L187.9 268.5 L188.0 269.6 L188.3 269.8 L188.3 270.9 L189.0 271.7 L189.1 272.8 L189.0 274.8 L189.5 273.6 L189.5 277.2 L189.8 278.8 L190.3 277.6 L190.5 278.4 L190.7 276.4 L191.2 275.6 L191.9 274.1 L192.3 272.0 L192.6 271.3 L192.7 271.1 L193.3 269.8 L193.8 270.5 L193.8 268.6 L194.3 268.5 L194.9 269.7 L195.0 267.3 L195.1 268.6 L195.8 268.5 L196.0 266.9 L196.2 267.0 L196.6 264.7 L196.6 265.0 L197.1 263.0 L197.6 261.8 L197.9 260.1 L197.7 259.4 L198.1 258.8 L198.1 257.7 L198.4 255.4 L198.5 254.4 L198.5 253.0 L198.2 251.2 L198.6 253.4 L198.5 251.3 L198.4 250.2 L198.7 248.8 L198.5 248.8 L198.5 247.4 L198.6 245.7 L198.7 245.3 L198.7 244.0 L199.1 243.2 L198.9 241.6 L199.2 242.0 L199.4 240.4 L199.0 239.4 L199.3 237.6 L199.9 238.1 L200.1 237.6 L200.6 239.5 L200.7 240.5 L201.0 236.6 L201.1 236.6 L201.0 235.9 L200.8 235.2 L201.0 234.0 L201.1 231.7 L201.0 230.0 L201.1 230.5 L201.3 227.4 L201.8 226.8 L201.6 226.0 L201.7 226.9 L202.1 223.1 L202.0 223.0 L201.8 223.7 L201.9 222.3 L201.9 219.1 L202.1 221.5 L202.3 218.4 L202.5 215.6 L202.7 216.4 L202.3 215.3 L202.8 214.9 L202.6 214.0 L202.5 212.2 L202.8 212.6 L203.1 209.9 L203.2 207.5 L203.1 206.7 L203.5 203.9 L203.4 204.7 L203.2 204.1 L203.5 203.7 L203.9 202.3 L204.1 199.8 L204.1 197.1 L203.9 198.3 L204.2 194.3 L204.1 195.1 L204.5 195.1 L204.7 193.6 L205.4 193.2 L205.7 195.1 L206.3 195.8 L206.7 195.4 L206.4 196.8 L207.0 199.0 L207.2 199.2 L207.5 197.2 L208.1 195.3 L208.3 194.1 L208.5 192.9 L209.3 191.7 L209.7 189.8 L209.9 190.3 L209.7 192.4 L209.7 191.7 L209.9 193.2 L210.5 195.9 L210.2 198.1 L210.6 196.2 L210.8 198.2 L210.5 199.3 L211.0 199.1 L210.8 202.5 L210.9 202.8 L211.1 205.2 L211.2 204.4 L211.4 205.1 L211.2 208.5 L211.9 207.2 L211.4 210.5 L212.0 210.9 L212.0 213.1 L212.2 212.5 L212.1 213.4 L212.4 216.0 L212.6 217.2 L213.1 216.5 L213.2 216.4 L213.5 218.2 L213.6 218.6 L213.4 220.0 L213.8 221.9 L213.7 223.1 L214.1 224.1 L214.3 224.9 L214.7 226.4 L215.4 225.6 L215.5 226.0 L215.8 226.6 L215.5 226.2 L215.8 228.6 L216.3 230.8 L216.2 229.9 L215.9 232.1 L216.7 233.3 L216.5 234.7 L216.3 232.2 L216.5 230.3 L216.5 231.1 L216.8 230.8 L216.8 227.4 L216.8 228.3 L216.9 226.6 L217.2 225.6 L217.7 224.2 L217.2 221.9 L217.7 222.6 L217.5 221.9 L217.6 220.5 L217.7 219.3 L218.0 218.3 L218.6 217.5 L219.0 218.3 L219.4 219.7 L219.6 219.1 L219.6 215.0 L219.3 214.9 L219.7 215.5 L219.8 214.2 L220.1 209.5 L219.8 208.6 L219.9 208.3 L220.4 207.1 L220.5 205.0 L220.5 204.8 L220.6 202.7 L221.1 205.2 L221.5 201.6 L221.9 199.9 L222.0 202.3 L222.0 201.9 L222.4 202.2 L222.7 203.5 L222.4 203.6 L222.7 204.1 L222.7 204.2 L223.2 208.5 L223.2 210.9 L223.2 210.6 L223.3 208.9 L224.2 207.3 L224.4 206.7 L224.5 206.6 L224.6 208.0 L225.1 210.2 L225.7 208.9 L225.7 212.5 L225.8 212.3 L225.8 213.6 L226.0 214.7 L226.1 216.7 L226.1 217.8 L226.3 219.7 L226.0 220.3 L226.1 223.0 L226.1 220.6 L226.6 223.0 L226.5 223.8 L226.6 226.1 L226.5 226.1 L226.4 227.8 L226.7 228.0 L226.5 231.0 L227.0 232.4 L226.5 232.4 L226.7 235.5 L227.3 238.0 L227.2 237.6 L226.8 238.2 L227.1 237.6 L227.5 238.0 L227.4 240.6 L227.4 239.9 L227.6 242.3 L227.8 244.1 L228.0 244.9 L227.9 248.1 L228.2 246.3 L228.0 246.4 L228.3 244.8 L228.3 244.6 L228.7 243.6 L228.8 242.6 L229.2 239.4 L229.2 241.1 L229.4 237.5 L229.8 237.4 L229.6 235.7 L230.1 237.3 L230.1 236.8 L230.1 238.3 L230.5 241.5 L230.7 240.8 L230.9 242.4 L231.2 242.2 L231.8 242.2 L231.7 240.1 L232.0 239.3 L232.5 237.7 L232.5 235.7 L232.9 235.0 L232.8 233.1 L233.3 231.9 L233.4 231.8 L233.6 229.8 L234.0 230.7 L234.0 227.9 L234.3 226.2 L234.8 226.9 L234.5 222.7 L235.2 223.1 L235.4 220.3 L235.4 221.2 L235.5 221.2 L235.9 222.3 L236.4 225.5 L236.7 226.0 L236.7 228.8 L237.3 227.9 L236.9 231.2 L237.6 231.9 L237.8 232.9 L237.6 234.0 L237.9 233.7 L238.4 234.3 L238.3 233.2 L238.7 229.5 L239.2 227.3 L239.2 227.9 L239.3 230.1 L239.3 231.0 L239.6 229.5 L239.6 232.1 L240.2 231.4 L240.3 233.3 L240.1 234.3 L240.7 236.7 L240.6 237.6 L240.5 239.7 L240.7 239.0 L241.0 242.0 L240.9 242.5 L241.4 245.0 L241.3 244.8 L241.2 248.1 L241.2 247.2 L241.8 248.0 L241.6 247.1 L241.8 250.5 L242.1 250.2 L241.9 253.2 L242.1 253.0 L242.1 254.7 L242.4 256.2 L242.8 259.4 L242.7 260.5 L242.6 260.5 L243.1 261.3 L243.1 260.8 L243.7 259.9 L244.0 258.1 L244.2 258.1 L244.8 256.3 L245.0 256.9 L245.3 256.6 L246.0 258.0 L246.1 259.8 L246.4 259.8 L246.7 260.7 L247.1 258.3 L247.8 257.6 L247.9 259.0 L248.0 258.4 L248.5 257.1 L248.9 256.9 L249.5 256.0 L249.5 259.1 L250.0 259.4 L250.4 259.6 L250.8 260.8 L250.8 263.1 L251.2 262.4 L251.1 265.4 L251.5 264.5 L251.8 264.9 L251.7 266.9 L252.0 268.7 L252.0 269.9 L251.9 271.0 L252.3 273.4 L252.3 273.7 L252.2 273.9 L252.6 274.9 L252.4 275.4 L252.7 278.4 L252.4 279.4 L252.6 279.3 L252.7 279.5 L252.6 279.1 L252.8 277.4 L253.3 276.1 L253.4 274.9 L253.9 272.9 L253.9 271.6 L254.0 273.0 L254.1 271.9 L254.1 272.7 L253.7 273.8 L254.0 275.3 L254.3 276.6 L253.9 279.2 L254.2 279.9 L253.9 280.6 L254.5 282.8 L254.0 282.3 L254.0 284.4 L254.5 285.2 L254.5 284.5 L253.9 286.8 L254.1 289.4 L254.0 288.5 L254.1 289.4 L254.2 289.9 L254.3 292.2 L254.4 292.3 L254.6 294.6 L254.7 295.1 L254.5 297.9 L254.5 298.6 L254.3 299.2 L254.3 300.8 L254.8 302.0 L254.4 302.5 L254.6 304.8 L254.5 306.0 L255.0 306.5 L255.0 306.9 L254.5 309.9 L255.0 310.1 L255.0 310.1 L255.0 313.2 L254.5 313.9 L254.6 315.3 L255.0 315.1 L255.0 314.9 L255.1 316.3 L255.2 317.0 L255.2 317.5 L255.2 319.3 L255.0 320.1 L255.0 321.1 L255.3 322.5 L255.0 325.0 L255.1 325.7 L255.4 325.0 L255.0 324.3 L255.3 324.5 L255.3 321.6 L255.9 322.6 L255.6 319.5 L256.0 319.3 L255.8 317.4 L256.5 315.9 L256.2 314.3 L256.4 314.1 L256.6 313.9 L256.8 312.0 L256.7 312.8 L257.1 312.0 L257.2 309.2 L257.7 307.3 L257.8 306.4 L257.7 307.3 L257.8 307.8 L258.3 309.8 L258.6 310.3 L258.8 311.1 L259.0 311.5 L259.0 312.5 L259.3 315.0 L259.3 316.0 L259.4 315.7 L259.7 312.6 L260.3 312.1 L260.5 313.1 L260.8 314.1 L260.5 314.9 L260.8 315.5 L261.1 316.3 L261.1 317.0 L261.2 318.5 L261.2 321.8 L261.6 321.8 L262.1 324.5 L262.0 324.3 L262.0 325.1 L262.7 327.7 L262.6 327.0 L263.2 328.9 L263.2 329.5 L263.8 329.7 L264.0 326.9 L264.5 328.2 L264.5 326.4 L265.1 326.6 L265.8 328.8 L265.6 329.1 L266.2 330.4 L266.9 330.6 L267.0 331.5 L267.2 332.4 L267.9 333.3 L268.1 333.7 L268.6 335.3 L268.6 337.3 L268.7 339.2 L268.9 339.0 L269.1 341.3 L269.7 341.8 L269.9 343.0 L269.7 343.5 L270.2 345.4 L269.7 345.4 L269.7 346.3 L269.8 348.2 L269.9 349.3 L270.3 350.7 L270.2 352.5 L270.1 353.0 L270.6 353.3 L270.6 355.0 L270.6 356.6 L270.5 356.4 L270.9 357.0 L270.9 359.0 L271.2 360.6 L271.3 361.5 L270.9 362.4 L271.0 361.9 L271.3 363.6 L271.4 365.9 L271.3 366.4 L271.7 369.2 L271.3 368.8 L271.5 371.0 L271.5 371.8 L271.7 372.8 L271.9 373.5 L272.3 372.0 L272.1 371.2 L271.9 370.6 L272.5 369.9 L272.1 368.7 L272.5 368.8 L272.2 366.5 L272.3 365.9 L272.5 363.1 L272.7 362.6 L272.8 361.9 L273.4 361.3 L273.5 362.0 L274.1 363.5 L274.4 364.8 L274.4 364.2 L274.5 362.0 L274.6 361.3 L275.0 361.1 L275.1 360.4 L275.0 359.7 L275.7 357.5 L275.9 357.0 L275.7 355.1 L275.7 355.8 L276.4 357.1 L276.2 358.3 L276.2 360.2 L276.7 360.9 L277.1 359.1 L277.2 358.2 L277.0 357.3 L277.5 356.0 L277.3 355.8 L277.5 354.7 L277.9 354.2 L277.8 352.1 L278.3 350.4 L278.2 350.3 L278.4 351.6 L278.6 352.1 L279.0 352.8 L278.6 354.0 L279.2 356.4 L279.4 357.7 L279.1 359.2 L279.6 359.0 L280.2 359.2 L280.5 358.4 L280.9 359.0 L281.2 357.3 L281.4 357.1 L281.6 355.4 L281.4 354.5 L281.8 353.5 L282.0 352.1 L282.1 351.0 L282.0 351.4 L282.1 349.3 L281.9 348.1 L282.5 347.7 L282.4 345.3 L282.6 344.2 L282.9 343.2 L282.9 342.9 L282.5 342.0 L282.8 339.3 L282.9 338.3 L283.3 338.9 L283.0 338.1 L283.0 335.6 L283.1 334.3 L283.5 333.9 L283.5 331.7 L283.3 332.2 L283.8 331.7 L283.7 330.3 L283.3 328.4 L283.7 326.9 L283.2 327.7 L283.4 324.0 L283.6 323.9 L283.7 322.1 L283.5 321.8 L283.8 320.7 L284.7 319.0 L284.8 319.9 L284.6 317.7 L284.9 318.0 L285.1 316.7 L285.6 316.1 L285.7 316.0 L285.8 312.1 L285.7 310.9 L285.7 312.1 L286.1 308.6 L286.3 308.7 L286.3 307.3 L286.6 308.8 L286.8 308.6 L287.7 311.8 L287.9 312.1 L288.2 313.8 L288.1 314.6 L288.6 315.4 L288.7 316.9 L288.6 317.5 L288.5 319.7 L288.9 321.7 L289.0 319.9 L289.2 321.8 L289.3 323.0 L290.1 322.7 L290.5 325.4 L290.6 325.7 L290.4 327.4 L290.8 327.7 L290.8 330.7 L291.0 329.8 L291.1 330.7 L291.1 333.2 L291.1 334.4 L291.6 334.3 L291.9 335.3 L291.9 335.1 L291.8 337.3 L292.1 336.2 L292.2 335.1 L292.4 332.6 L292.9 332.6 L292.9 332.8 L293.1 330.5 L293.5 331.5 L293.2 331.5 L293.2 334.6 L293.6 333.8 L293.8 335.3 L294.0 336.9 L293.7 336.7 L294.1 338.3 L294.3 339.4 L294.2 342.3 L294.5 343.0 L294.9 341.7 L294.5 340.5 L295.0 339.3 L294.8 339.1 L295.2 337.4 L295.3 335.3 L295.9 333.9 L296.0 334.5 L296.0 333.2 L296.0 331.5 L296.1 332.3 L296.7 332.8 L296.8 336.0 L296.7 334.5 L297.0 335.5 L297.3 337.8 L297.0 338.7 L297.1 339.1 L297.6 341.1 L298.0 340.1 L298.1 339.9 L297.6 338.5 L297.8 336.6 L298.0 334.5 L297.9 335.0 L298.1 332.5 L298.5 332.6 L298.6 330.9 L298.6 330.4 L299.0 328.4 L298.9 327.6 L299.3 327.6 L299.7 326.9 L299.8 325.5 L300.2 326.1 L300.8 327.6 L300.9 329.0 L301.5 329.7 L301.8 331.6 L301.5 331.0 L301.6 332.9 L302.2 334.1 L302.6 335.8 L302.7 336.4 L302.8 337.3 L302.8 338.1 L303.5 338.8 L303.3 339.2 L303.5 341.1 L304.1 341.7 L304.1 343.4 L304.7 345.0 L304.7 344.9 L305.1 348.1 L305.6 347.4 L305.3 350.2 L305.8 350.1 L305.8 350.6 L306.3 353.3 L306.5 354.4 L306.6 355.1 L307.1 355.0 L307.2 357.0 L307.5 357.2 L307.5 358.6 L307.4 360.4 L307.5 361.3 L307.8 362.4 L308.0 362.7 L308.5 364.9 L308.6 365.7 L308.7 364.2 L309.0 364.1 L308.9 361.5 L309.3 361.5 L309.1 359.2 L309.6 359.1 L309.9 357.1 L309.9 357.0 L310.2 355.8 L310.6 355.1 L311.1 353.2 L311.0 354.4 L311.3 355.4 L311.7 356.5 L311.8 356.7 L311.7 358.4 L312.0 359.5 L312.4 361.1 L312.0 361.3 L312.3 363.3 L312.4 363.8 L312.5 362.7 L312.9 361.8 L313.6 360.0 L314.0 359.3 L314.4 358.0 L315.1 359.0 L315.1 358.9 L315.7 359.8 L316.1 361.0 L316.3 361.9 L316.9 361.0 L316.9 359.9 L317.0 359.1 L317.7 356.6 L317.7 356.0 L318.1 354.1 L318.2 354.1 L318.4 353.6 L318.7 354.1 L319.2 353.1 L319.6 353.2 L319.8 354.0 L320.3 356.4 L320.2 357.2 L320.7 358.3 L321.1 359.0 L321.3 358.2 L321.6 357.8 L322.6 357.1 L322.7 357.0 L322.9 357.9 L323.3 358.6 L323.3 360.7 L323.7 360.5 L323.4 361.8 L323.8 363.0 L324.0 364.8 L324.1 364.3 L324.5 362.5 L324.2 362.3 L325.0 360.2 L324.8 359.8 L324.9 356.9 L325.3 356.1 L325.1 354.0 L325.1 355.1 L325.3 354.0 L325.7 352.7 L325.9 351.2 L326.1 349.2 L326.1 349.1 L326.5 348.6 L326.2 346.2 L326.4 344.7 L327.1 344.9 L327.2 344.6 L327.2 342.0 L327.2 342.4 L327.4 342.2 L327.3 339.1 L327.7 337.9 L328.0 337.7 L327.9 335.8 L328.5 336.0 L328.9 336.4 L329.1 338.8 L329.1 339.3 L329.8 339.7 L329.9 340.2 L330.4 339.2 L331.0 341.3 L331.6 340.5 L331.7 341.6 L332.1 342.5 L332.8 343.7 L332.7 344.7 L333.2 344.9 L333.7 345.4 L333.7 346.0 L334.0 347.7 L334.0 348.4 L334.6 350.6 L334.3 351.7 L334.7 351.6 L335.1 352.8 L334.9 354.9 L335.3 355.3 L335.2 355.6 L335.6 358.0 L335.6 359.0 L336.3 358.7 L336.7 358.2 L336.8 357.7 L337.1 357.3 L337.5 358.0 L338.0 357.6 L338.3 358.7 L338.9 359.4 L338.8 358.1 L339.5 359.0 L340.0 360.3 L340.0 358.9 L340.7 361.1 L341.2 360.1 L341.4 361.9 L342.0 361.6 L341.8 363.8 L342.5 362.5 L342.9 364.2 L342.9 363.8 L343.4 363.9 L343.7 364.0 L344.3 364.8 L344.9 364.7 L345.3 362.4 L345.7 362.8 L345.5 361.9 L346.2 360.9 L346.7 361.0 L347.0 362.0 L347.3 362.1 L347.6 363.4 L348.2 363.8 L348.9 363.3 L349.1 363.7 L349.0 364.3 L349.7 364.8 L350.2 365.8 L350.2 366.2 L350.6 367.8 L351.5 368.2 L351.6 369.7 L352.0 370.6 L352.3 368.2 L353.1 367.2 L353.2 367.5 L353.8 364.8 L353.9 364.8 L353.8 363.5 L354.4 364.3 L354.5 362.3 L354.3 361.7 L354.9 359.7 L355.0 358.8 L355.0 357.6 L355.2 357.0 L355.8 356.7 L355.6 355.1 L355.9 353.2 L356.1 353.2 L356.9 351.0 L357.1 349.5 L356.9 350.1 L357.6 349.4 L357.8 346.2 L358.2 345.4 L358.3 344.9 L359.2 342.9 L359.3 343.6 L359.4 343.8 L359.7 342.6 L360.5 342.1 L360.7 341.6 L361.4 342.3 L361.4 343.2 L362.0 344.7 L362.1 345.4 L362.3 346.4 L362.5 347.0 L363.1 345.2 L363.8 346.0 L363.8 347.5 L364.3 348.7 L364.6 349.3 L365.0 349.4 L365.3 351.5 L366.0 350.1 L366.3 351.6 L366.5 352.5 L366.6 354.3 L367.3 355.7 L367.5 357.0 L367.6 357.6 L368.2 358.2 L368.5 358.9 L368.9 358.8 L369.2 359.3 L369.7 361.1 L370.0 361.8 L370.6 362.1 L371.0 362.8 L371.3 362.8 L371.5 363.9 L371.8 363.2 L372.5 363.6 L372.6 365.1 L373.2 366.1 L373.6 366.1 L373.8 366.8 L374.2 366.7 L374.5 367.7 L374.8 369.2 L375.0 369.9 L375.7 371.7 L376.3 373.1 L376.7 373.8 L376.4 374.8 L377.1 374.4 L377.2 376.2 L377.9 377.1 L378.2 379.3 L378.3 379.4 L378.8 380.1 L378.9 380.7 L379.1 382.1 L379.5 383.0 L379.7 383.7 L379.5 384.4 L380.0 387.1 L380.3 387.4 L380.4 389.3 L380.7 389.7 L381.0 390.8 L381.2 389.8 L382.1 388.4 L382.1 388.5 L382.6 387.5 L382.9 386.0 L383.3 386.3 L383.7 387.0 L383.6 386.1 L384.3 386.7 L384.4 386.4 L385.1 386.4 L385.4 385.5 L385.8 386.0 L385.9 388.1 L386.3 388.7 L386.8 390.0 L387.0 391.2 L387.4 391.5 L387.7 394.0 L387.7 393.7 L387.8 393.8 L388.2 394.9 L388.3 396.7 L387.9 397.9 L388.4 399.5 L388.5 400.3 L388.8 401.5 L388.7 402.3 L388.7 403.8 L388.6 405.2 L389.3 406.2 L389.1 407.2 L389.5 405.7 L390.1 406.1 L390.4 403.8 L390.6 403.4 L390.9 402.8 L391.5 401.2 L391.5 399.9 L391.9 398.7 L392.2 398.2 L392.6 396.6 L392.6 397.2 L393.3 398.0 L393.0 399.3 L393.6 400.6 L393.7 401.5 L394.0 403.5 L394.3 403.7 L394.5 405.3 L394.6 403.4 L394.7 403.0 L394.9 403.2 L395.2 401.8 L395.3 399.8 L395.3 398.6 L395.6 397.7 L395.8 396.0 L395.6 394.5 L396.2 394.9 L396.3 392.8 L396.4 391.3 L395.9 390.7 L396.4 389.9 L396.3 391.1 L397.0 392.4 L396.9 392.8 L396.9 393.3 L397.0 394.5 L397.3 396.5 L397.6 398.2 L397.4 399.8 L397.9 401.2 L397.9 401.7 L398.2 403.4 L398.4 403.4 L398.4 403.9 L399.2 403.6 L399.4 403.3 L399.9 403.1 L400.3 403.4 L400.5 402.7 L401.0 403.5 L401.6 403.0 L401.9 401.9 L402.5 401.0 L402.6 401.5 L402.7 401.0 L403.4 399.5 L403.1 398.4 L403.5 397.2 L404.1 396.0 L404.5 394.2 L404.9 394.1 L404.9 393.0 L405.1 391.8 L405.2 390.2 L405.2 390.8 L405.2 388.4 L405.9 386.7 L406.0 385.5 L406.2 385.6 L406.4 383.6 L406.2 382.8 L406.4 383.4 L406.3 382.3 L406.5 379.6 L407.0 378.6 L407.3 377.4 L407.1 376.4 L407.6 378.0 L407.8 378.7 L407.7 379.3 L408.4 380.5 L408.2 381.9 L408.7 382.4 L409.0 384.1 L409.2 383.8 L410.0 383.5 L410.3 385.7 L410.8 385.7 L411.1 386.6 L410.9 387.3 L411.4 388.3 L411.5 390.2 L412.0 389.8 L412.2 388.6 L412.9 387.3 L413.0 389.1 L413.3 390.0 L413.2 391.3 L413.3 391.4 L414.0 391.7 L413.6 394.5 L414.3 394.7 L414.2 396.0 L414.4 395.4 L414.7 396.4 L415.4 395.0 L415.6 395.6 L416.2 395.0 L416.6 396.6 L416.4 397.5 L416.5 398.8 L417.3 398.5 L417.4 400.2 L417.0 402.3 L417.6 402.2 L417.7 403.7 L418.0 404.9 L418.7 405.7 L418.9 404.8 L419.1 403.5 L419.3 403.0 L419.5 400.8 L419.3 399.4 L420.1 398.4 L420.0 397.9 L420.4 397.2 L420.5 396.8 L420.8 395.5 L420.7 393.0 L421.0 392.3 L421.2 391.3 L421.6 390.2 L422.3 390.6 L422.6 389.7 L422.6 389.6 L423.3 388.5 L423.4 388.7 L423.9 388.3 L423.8 388.8 L424.3 389.8 L424.6 391.6 L425.0 392.2 L425.1 394.1 L425.4 394.9 L426.2 394.3 L426.4 396.0 L426.8 398.0 L426.7 397.9 L427.3 398.7 L427.4 401.3 L427.7 401.9 L428.3 402.8 L428.7 401.4 L428.7 400.1 L429.6 399.3 L429.5 398.6 L429.7 397.8 L430.3 396.0 L430.8 396.8 L431.1 397.3 L431.6 397.0 L431.9 395.2 L431.9 394.1 L432.3 393.5 L432.4 393.2 L432.1 390.8 L432.7 390.6 L433.0 388.2 L432.8 388.6 L433.1 387.2 L433.2 386.4 L433.7 384.8 L433.5 383.9 L434.1 382.5 L434.6 383.2 L434.7 383.6 L435.2 385.6 L435.0 386.4 L435.6 388.5 L435.7 389.4 L436.1 390.2 L436.7 391.0 L437.0 392.4 L437.6 393.1 L437.7 394.5 L438.0 396.0 L438.6 397.1 L439.0 398.6 L439.3 398.6 L439.6 399.1 L439.9 400.8 L440.5 400.7 L440.9 400.0 L440.9 401.4 L441.1 399.9 L441.6 400.2 L442.3 401.1 L442.4 400.8 L442.5 400.1 L442.9 401.9 L443.6 401.4 L443.7 402.8 L444.5 403.3 L444.8 404.7 L444.9 405.1 L445.9 406.7 L445.7 407.8 L446.2 408.5 L446.7 409.5 L447.1 410.4 L447.5 411.7 L447.8 412.2 L448.1 414.3 L448.6 414.4 L448.7 413.6 L449.2 414.2 L449.4 415.6 L449.8 415.8 L450.7 415.9 L451.0 416.2 L451.1 417.2 L451.5 417.3 L451.9 416.2 L452.4 416.4 L452.7 415.3 L452.9 415.6 L453.5 414.4 L453.5 412.7 L453.9 412.4 L454.4 411.7 L454.8 410.6 L455.4 409.4 L455.4 407.6 L455.9 407.8 L456.5 408.2 L456.7 408.6 L456.9 410.2 L457.2 410.9 L457.4 412.3 L457.4 414.3 L457.5 414.3 L457.6 414.3 L457.6 415.6 L457.9 418.1 L458.1 418.6 L458.3 420.1 L458.8 419.0 L459.1 419.2 L459.1 418.2 L459.8 417.6 L460.6 416.3 L460.6 415.3 L460.7 416.2 L461.0 416.4 L461.7 417.7 L462.4 418.5 L462.5 418.2 L462.5 417.6 L463.2 415.1 L463.2 415.3 L464.0 413.4 L464.5 412.6 L464.5 411.5 L465.0 412.1 L465.6 414.7 L465.3 415.8 L466.0 416.3 L466.5 416.3 L466.1 413.7 L466.6 412.4 L466.6 412.0 L466.8 411.1 L467.1 409.1 L466.8 408.5 L467.0 406.7 L467.4 406.0 L467.7 405.5 L467.8 404.7 L467.9 402.8 L468.6 401.7 L468.8 402.3 L469.2 401.8 L469.6 401.6 L469.6 400.4 L470.3 401.4 L470.7 402.5 L471.2 402.4 L471.3 401.6 L471.6 402.0 L472.4 402.9 L472.6 402.2 L472.8 402.8 L473.3 403.4 L473.1 405.0 L473.5 405.8 L473.5 406.7 L473.9 406.6 L474.2 409.6 L474.5 410.2 L474.2 410.5 L474.7 412.4 L475.3 412.4 L475.0 415.2 L475.7 416.1 L476.2 416.9 L476.6 418.2 L476.6 419.2 L476.9 419.7 L477.5 419.3 L477.7 418.3 L478.2 419.6 L478.5 419.8 L478.7 420.3 L479.4 421.0 L479.5 421.1 L480.0 419.9 L480.6 419.1 L480.8 419.6 L480.7 418.6 L481.5 418.3 L481.8 418.2 L482.2 419.1 L482.4 420.5 L482.7 422.0 L483.0 423.3 L483.3 424.1 L483.6 424.3 L483.8 425.9 L483.8 424.5 L484.5 423.7 L484.9 422.3 L485.1 420.9 L485.7 420.1 L485.9 421.4 L486.6 421.2 L487.2 421.8 L487.3 423.0 L487.5 423.3 L488.3 424.1 L488.1 423.6 L488.7 424.0 L489.2 425.0 L489.6 424.6 L490.2 425.7 L490.1 424.3 L490.8 425.6 L490.7 426.0 L491.0 425.5 L491.9 425.3 L492.1 425.0 L492.4 425.1 L493.2 423.5 L493.1 423.1 L493.7 421.4 L493.9 421.6 L494.2 420.6 L494.8 419.2 L495.0 419.2 L495.3 418.9 L495.8 417.2 L495.8 416.7 L496.4 416.2 L496.9 415.3 L497.1 413.9 L497.3 413.5 L497.5 412.0 L497.8 411.0 L498.0 409.9 L498.2 408.7 L498.5 407.3 L498.6 407.1 L498.5 405.2 L498.8 404.7 L498.9 406.0 L499.7 406.6 L500.2 407.9 L500.4 408.6 L501.0 410.5 L501.0 411.5 L501.6 411.9 L501.9 412.8 L502.3 414.4 L502.5 413.1 L502.8 412.3 L502.9 411.0 L503.1 409.5 L503.5 409.0 L503.7 407.6 L504.3 407.0 L504.4 406.4 L504.8 406.4 L505.5 405.9 L505.6 405.7 L506.2 404.7 L506.7 403.3 L506.8 404.1 L507.1 402.8 L507.4 404.1 L507.5 405.0 L508.0 407.1 L508.3 407.8 L508.5 408.6 L508.7 409.1 L509.2 410.4 L509.8 410.9 L509.7 411.3 L510.4 412.4 L510.9 412.3 L510.4 411.0 L510.9 409.7 L511.4 408.1 L511.6 406.1 L511.3 404.7 L511.4 403.0 L511.9 403.1 L511.8 403.2 L512.1 400.8 L512.4 399.9 L512.8 397.9 L513.2 396.6 L513.0 396.4 L513.2 394.7 L513.7 393.5 L514.3 393.8 L514.3 392.1 L514.9 391.4 L514.7 389.9 L514.8 388.7 L515.4 387.4 L515.4 386.0 L515.7 385.1 L515.6 384.8 L515.9 382.9 L516.5 382.7 L516.6 381.5 L517.2 383.3 L517.3 384.0 L517.5 384.5 L518.4 385.2 L518.5 386.4 L519.1 387.0 L519.4 387.8 L519.4 387.4 L519.6 388.9 L520.4 389.6 L520.5 389.4 L521.0 390.2 L521.4 390.7 L521.8 392.8 L522.3 393.9 L522.2 395.8 L522.6 396.0 L522.9 396.6 L523.3 398.3 L523.8 398.2 L523.7 400.5 L524.3 401.8 L524.2 399.6 L524.5 399.5 L524.4 398.0 L524.7 397.1 L524.7 394.8 L525.0 393.3 L525.2 391.8 L525.5 391.1 L525.4 391.3 L526.0 389.2 L525.9 388.6 L525.9 388.3 L526.6 388.2 L526.9 388.0 L527.0 386.3 L527.3 386.7 L527.8 385.4 L528.5 384.6 L528.5 384.8 L528.8 383.3 L529.6 383.4 L529.7 383.5 L530.1 381.9 L530.3 380.3 L530.4 379.9 L530.1 379.5 L530.5 378.2 L530.1 377.2 L530.8 376.1 L530.7 374.8 L530.9 373.6 L531.0 372.7 L531.1 371.4 L531.2 369.8 L530.7 370.0 L531.1 368.5 L531.4 368.1 L531.1 365.9 L531.5 365.8 L531.5 364.3 L531.3 363.6 L531.6 363.1 L531.4 362.0 L531.2 358.9 L531.2 358.5 L531.4 357.7 L531.8 355.8 L531.8 356.2 L531.7 354.5 L531.8 354.6 L532.6 352.9 L533.0 353.7 L533.0 354.3 L533.6 353.5 L534.2 355.4 L533.9 357.6 L534.6 357.5 L534.5 358.2 L534.7 358.8 L534.9 360.3 L535.5 361.2 L535.9 360.3 L536.1 358.3 L536.4 358.8 L536.5 356.6 L536.6 356.5 L537.2 354.3 L537.5 353.5 L537.7 352.7 L537.9 351.4 L538.9 349.5 L539.0 349.7 L539.2 351.7 L539.7 352.9 L539.3 353.1 L539.9 353.2 L540.3 354.4 L539.9 355.0 L540.4 357.4 L540.9 358.1 L541.3 359.5 L541.5 358.4 L541.7 360.3 L542.3 360.3 L542.7 361.3 L542.6 362.8 L543.0 363.2 L543.0 365.4 L543.5 366.6 L543.5 366.6 L543.3 368.3 L543.6 368.9 L543.9 369.9 L544.3 371.4 L544.2 371.9 L544.4 372.2 L544.8 370.7 L545.3 369.1 L545.8 368.5 L546.2 369.0 L546.3 366.9 L546.5 366.1 L546.7 365.7 L546.9 365.0 L547.0 362.5 L546.5 362.1 L546.8 360.1 L546.6 360.0 L547.1 359.2 L547.0 358.0 L547.1 357.4 L547.1 359.3 L547.5 360.6 L547.4 360.6 L548.1 361.9 L547.9 362.3 L548.7 363.2 L548.7 365.0 L549.0 363.7 L549.3 362.4 L549.7 362.1 L549.9 359.4 L550.1 359.6 L550.6 358.3 L550.6 360.0 L551.3 360.1 L551.6 361.3 L551.7 363.2 L552.0 363.0 L552.5 365.1 L552.4 365.8 L552.8 367.3 L553.0 368.9 L552.5 369.6 L552.7 371.1 L553.0 371.9 L552.7 373.0 L553.3 373.1 L553.5 374.3 L553.3 376.3 L553.0 378.1 L553.5 377.9 L553.8 377.7 L553.6 378.4 L553.6 380.0 L553.6 381.9 L553.9 382.9 L553.9 384.4 L554.0 385.5 L554.7 384.8 L554.9 384.1 L555.6 384.5 L555.7 385.0 L556.0 383.7 L556.4 385.3 L556.8 384.4 L556.9 384.7 L557.8 383.5 L558.0 383.2 L558.4 383.5 L558.7 383.5 L558.7 382.4 L559.0 381.3 L559.2 381.3 L559.6 380.0 L559.8 378.1 L560.1 378.0 L560.2 376.3 L560.1 374.9 L560.6 373.8 L561.0 374.4 L561.7 374.3 L561.9 375.1 L562.2 374.8 L562.2 374.8 L562.5 376.7 L562.6 377.5 L562.5 379.0 L562.3 379.3 L562.7 382.1 L562.5 382.3 L562.6 382.4 L562.7 385.1 L563.1 386.0 L563.0 387.7 L563.4 389.2 L563.1 390.6 L563.5 390.2 L564.1 390.6 L564.5 392.1 L564.9 394.2 L565.2 393.9 L565.5 396.0 L565.9 396.3 L566.0 396.4 L566.9 396.8 L566.7 396.8 L567.4 397.0 L567.4 395.2 L567.8 394.3 L568.4 393.3 L568.4 392.7 L569.2 392.3 L569.3 390.2 L569.9 391.0 L569.8 392.5 L569.9 394.1 L570.3 395.6 L570.5 396.6 L571.1 396.5 L571.3 397.9 L571.4 398.3 L571.8 400.3 L572.5 401.7 L573.0 403.5 L573.2 403.7 L573.7 402.1 L574.1 402.3 L574.3 401.1 L574.6 401.0 L575.1 399.9 L575.4 399.1 L575.6 399.0 L576.0 398.1 L576.8 395.0 L577.0 394.0 L577.2 392.8 L577.6 392.1 L578.0 391.1 L578.4 391.6 L579.1 391.6 L579.0 391.0 L579.3 389.3 L580.0 389.2 L580.1 388.5 L580.6 386.9 L581.1 387.1 L581.9 385.6 L582.0 384.7 L582.3 384.3 L582.8 382.5 L583.3 381.8 L583.3 381.1 L583.8 380.5 L584.4 380.0 L584.6 380.0 L584.7 380.3 L585.5 378.4 L585.7 378.6 L586.4 378.4 L586.5 377.7 L587.2 377.7 L587.3 376.9 L587.7 376.1 L588.0 375.5 L588.5 374.8 L588.5 375.9 L588.7 377.8 L589.2 378.2 L589.4 377.8 L589.1 379.6 L589.5 380.6 L589.4 382.7 L589.8 383.5 L590.1 384.3 L590.3 385.3 L590.3 387.4 L590.5 388.4 L591.0 389.8 L591.2 390.2 L591.5 388.7 L592.1 388.1 L592.1 386.7 L592.7 385.4 L592.8 384.2 L593.0 384.2 L593.7 382.3 L593.9 380.0 L594.3 379.7 L594.4 378.5 L594.7 377.7 L595.4 377.1 L595.5 377.0 L595.8 376.6 L596.2 376.7 L596.4 377.2 L597.2 377.1 L597.6 378.6 L597.9 377.2 L598.4 375.1 L598.8 374.2 L598.9 373.8 L599.4 374.3 L599.7 376.2 L599.9 377.2 L600.4 378.6 L600.5 380.3 L600.8 380.5 L601.6 382.6 L602.0 382.5 L602.0 384.4 L601.9 386.0 L602.5 385.6 L602.3 386.2 L602.6 387.0 L602.5 389.2 L603.0 389.9 L603.2 391.0 L603.1 393.1 L603.3 394.1 L603.6 395.2 L603.6 396.0 L604.3 398.2 L604.3 398.9 L604.6 397.9 L605.1 396.4 L605.2 394.6 L605.9 394.1 L606.5 393.6 L606.9 392.3 L607.3 390.4 L607.5 390.3 L607.8 388.3 L608.5 388.8 L608.9 387.7 L608.6 387.1 L609.3 387.0 L609.7 386.4 L610.3 385.0 L610.2 384.9 L611.1 383.6 L611.6 382.8 L611.7 382.5 L611.8 384.1 L612.0 385.2 L612.1 386.9 L612.5 387.6 L612.9 387.6 L612.7 388.4 L613.0 390.2 L613.4 390.5 L613.8 392.0 L613.8 393.9 L614.7 393.6 L614.9 395.0 L615.2 395.3 L615.5 395.1 L616.3 394.1 L617.0 395.9 L617.4 396.6 L617.3 398.5 L618.1 398.7 L618.2 398.9 L618.3 400.0 L619.1 401.1 L619.4 402.2 L619.5 403.8 L619.8 404.7 L620.4 402.8 L620.3 401.7 L621.0 401.1 L620.9 399.7 L621.2 397.9 L621.7 397.9 L622.3 396.5 L622.1 396.1 L622.9 395.0 L623.3 394.1 L623.6 394.1 L624.2 396.0 L624.7 396.8 L624.8 396.3 L625.4 396.9 L625.6 397.9 L625.7 396.5 L625.7 396.8 L626.3 395.2 L626.3 394.1 L627.0 392.6 L626.9 392.2 L627.1 390.2 L627.4 390.2 L627.6 389.7 L628.0 390.1 L628.5 389.1 L629.0 389.2 L629.3 388.0 L630.0 386.8 L630.2 386.0 L630.4 385.2 L631.0 384.4 L631.6 382.8 L631.9 382.5 L632.4 381.5 L632.3 381.1 L632.8 379.4 L633.3 378.6 L633.4 380.3 L634.4 379.4 L634.4 379.8 L634.8 381.5 L634.7 381.8 L635.4 383.4 L635.2 386.0 L636.0 385.2 L635.9 387.0 L636.2 388.3 L636.5 388.5 L637.1 389.5 L637.2 390.2 L637.7 390.5 L638.3 391.6 L638.4 392.3 L638.7 393.0 L639.1 393.1 L639.6 392.6 L639.6 391.1 L640.0 388.7 L640.3 387.6 L640.7 386.4 L641.0 386.4 L641.4 386.6 L641.7 388.8 L642.2 389.5 L642.2 389.2 L642.9 391.2 L643.5 391.5 L643.4 390.2 L644.2 389.8 L644.4 390.4 L644.8 390.0 L645.3 389.2 L645.5 389.0 L646.0 390.0 L646.7 389.7 L646.7 391.3 L647.2 391.2 L647.6 390.8 L647.7 390.6 L648.5 390.0 L648.5 390.3 L649.2 389.9 L649.4 388.3 L649.7 388.3 L650.1 388.5 L650.4 389.1 L651.2 391.4 L651.5 392.3 L651.6 391.2 L651.8 391.5 L652.0 393.3 L652.4 394.0 L653.2 394.7 L653.5 397.9 L653.6 397.9 L653.9 398.3 L654.5 399.9 L654.6 401.0 L655.3 403.1 L655.5 403.7 L656.1 403.5 L656.2 402.3 L656.3 401.9 L657.2 400.8 L657.4 400.8 L657.7 400.3 L658.1 399.1 L658.3 396.6 L658.4 396.2 L658.1 395.7 L658.3 394.7 L658.7 394.1 L658.8 392.0 L659.3 391.4 L659.4 390.2 L660.1 389.9 L660.1 390.2 L660.6 389.9 L660.8 389.6 L661.3 389.2 L661.6 388.7 L662.2 389.2 L662.6 388.9 L662.7 388.3 L663.2 388.3 L663.7 388.6 L664.0 387.8 L664.4 386.1 L665.0 386.0 L664.9 385.6 L665.4 385.6 L665.7 384.4 L666.1 385.6 L666.3 385.9 L666.7 386.5 L667.4 387.9 L667.7 388.3 L667.9 388.5 L668.7 390.4 L668.6 391.5 L669.1 393.9 L669.2 394.1 L669.6 395.0 L670.1 394.7 L670.5 395.3 L670.7 395.7 L670.8 395.3 L671.5 396.0 L671.9 395.6 L672.1 395.8 L672.8 395.4 L673.0 395.2 L673.1 394.8 L673.8 395.0 L674.3 395.0 L674.9 394.8 L674.7 394.6 L675.5 395.6 L675.7 395.8 L676.2 396.0 L676.3 395.8 L676.9 396.3 L677.6 397.1 L677.5 397.3 L678.2 395.6 L678.5 395.7 L678.7 397.0 L678.9 397.7 L679.3 398.0 L679.6 397.8 L680.0 397.4 L680.3 397.8 L680.8 398.5 L681.2 397.0 L681.5 397.7 L682.1 396.9 L682.3 395.2 L682.8 396.1 L683.3 396.2 L683.5 396.0 L683.8 393.9 L683.7 393.9 L684.5 392.3 L684.4 390.0 L684.9 390.4 L685.0 388.6 L685.4 388.3 L686.0 390.3 L686.3 390.4 L686.3 390.8 L687.0 393.1 L687.1 392.8 L687.6 394.0 L688.3 395.7 L688.5 396.0 L689.0 397.0 L689.3 397.9 L689.6 396.9 L690.2 396.4 L690.7 397.1 L690.8 396.6 L691.2 395.0 L691.3 396.3 L691.9 395.8 L692.2 395.6 L692.8 395.8 L693.2 396.0 L693.9 395.0 L694.3 395.4 L694.5 395.8 L694.5 396.0 L695.4 395.8 L695.8 396.0 L696.0 395.0 L696.6 394.4 L696.8 394.2 L697.0 394.2 L697.7 394.8 L698.0 394.1 L698.2 392.4 L698.7 391.4 L699.3 390.2 L699.3 389.2 L699.3 390.7 L699.6 392.0 L699.8 393.7 L700.6 394.7 L700.4 394.0 L700.9 396.0 L701.2 397.6 L701.9 397.1 L701.9 398.7 L702.6 399.5 L702.6 400.0 L703.2 400.8 L703.3 400.7 L703.7 400.4 L704.6 401.5 L704.5 402.9 L705.1 402.3 L705.6 401.6 L705.7 402.8 L706.1 403.6 L706.4 404.3 L706.5 405.4 L707.2 406.0 L707.4 407.2 L708.1 406.6 L708.1 406.6 L708.6 407.6 L709.2 407.5 L709.7 408.9 L709.5 408.5 L710.4 408.2 L710.3 407.7 L710.5 408.1 L711.2 408.1 L711.5 408.6 L711.7 409.2 L711.8 411.3 L712.7 412.5 L712.5 413.4 L712.8 414.4 L713.0 414.9 L713.5 416.6 L714.0 417.3 L714.4 417.3 L715.0 416.9 L714.9 417.4 L715.3 417.3 L715.7 416.7 L716.3 416.3 L716.7 416.0 L717.1 417.6 L717.7 418.0 L718.2 418.9 L718.3 419.2 L718.9 420.3 L718.9 421.0 L719.6 420.7 L719.8 421.0 L720.2 422.1 L720.7 422.9 L721.0 422.7 L721.6 422.5 L721.8 422.2 L721.8 420.7 L722.5 421.1 L722.6 421.0 L723.0 419.7 L723.4 419.6 L723.9 419.2 L724.2 418.0 L724.9 417.0 L725.0 417.3 L725.6 418.1 L725.9 418.1 L726.1 417.5 L726.5 417.7 L726.6 418.2 L727.4 418.9 L727.8 418.4 L727.9 418.2 L728.4 417.9 L728.9 419.0 L729.2 418.1 L729.4 417.7 L729.7 417.1 L730.4 418.8 L730.3 417.1 L730.8 417.3 L731.0 417.5 L731.2 418.3 L731.7 418.4 L732.1 419.3 L732.3 419.0 L733.0 419.7 L733.3 419.2 L733.4 419.8 L734.1 421.7 L734.1 421.5 L734.7 423.0 L735.3 421.9 L735.8 421.2 L736.0 420.4 L736.3 420.2 L736.6 419.2 L736.8 419.9 L737.3 419.0 L737.9 419.1 L737.9 419.8 L738.7 418.7 L739.0 419.9 L739.5 419.4 L739.5 420.1 L739.7 419.0 L739.9 419.6 L740.3 418.8 L740.7 418.9 L741.3 419.0 L742.0 419.1 L741.8 418.6 L742.4 417.3 L743.0 415.8 L743.1 415.4 L743.8 414.9 L743.8 413.8 L744.6 412.9 L744.8 412.9 L745.1 411.5 L745.5 410.0 L745.5 409.0 L745.6 408.6 L746.1 407.3 L746.7 407.0 L747.2 406.4 L747.5 405.5 L747.7 404.9 L747.8 404.8 L748.4 405.0 L748.9 405.1 L749.1 406.0 L749.6 405.7 L749.7 406.3 L750.2 406.6 L750.5 407.1 L751.2 408.9 L751.4 407.7 L751.8 406.3 L751.8 404.6 L752.4 402.9 L752.2 403.5 L752.8 401.7 L753.1 401.7 L753.3 403.7 L754.2 403.8 L754.2 404.7 L754.7 404.9 L755.0 405.1 L755.5 404.1 L756.0 403.3 L756.3 404.9 L756.6 404.1 L756.9 404.7 L757.6 405.7 L757.8 405.1 L758.3 404.6 L759.0 402.9 L759.2 401.7 L759.5 403.1 L759.7 403.7 L760.1 405.2 L760.3 406.2 L760.8 407.3 L761.0 407.8 L761.8 408.7 L762.1 410.2 L762.4 410.5 L762.6 408.8 L763.3 408.8 L763.9 408.6 L763.8 409.0 L764.4 408.1 L764.9 408.6 L764.9 407.7 L765.4 408.1 L766.0 407.3 L766.2 408.8 L767.0 410.0 L767.2 411.3 L767.5 411.2 L767.7 410.7 L768.5 411.5 L768.9 411.0 L769.2 410.5 L770.0 410.7 L770.3 411.2 L770.5 411.7 L770.7 412.2 L771.3 412.9 L771.7 413.8 L772.0 413.9 L772.8 413.6 L773.1 414.3 L773.4 414.1 L773.7 414.5 L774.3 414.3 L774.7 415.8 L774.8 415.3 L775.0 416.6 L775.6 416.1 L775.8 415.2 L776.0 415.7 L776.9 415.2 L777.3 415.4 L777.3 415.1 L777.7 414.5 L778.1 415.7 L778.2 416.1 L779.0 416.5 L779.6 417.2 L779.9 417.0 L780.1 418.5 L780.2 417.8 L780.5 416.9 L781.2 416.6 L781.4 416.0 L782.0 416.1 L782.0 415.6 L782.9 415.1 L782.9 415.2 L783.5 414.4 L783.6 415.1 L784.1 414.5 L784.3 412.8 L784.7 412.0 L785.2 411.0 L785.8 409.9 L785.9 409.0 L786.5 408.1 L787.0 407.0 L787.3 407.3 L787.8 409.0 L788.1 408.9 L788.3 408.9 L788.7 409.5 L789.0 410.7 L789.7 411.3 L790.3 411.2 L790.7 410.8 L791.0 410.5 L791.0 410.0 L791.5 407.7 L791.5 406.6 L791.5 406.8 L792.0 404.8 L792.1 404.2 L791.7 402.8 L791.7 400.8 L792.2 401.4 L792.7 400.9 L792.8 398.2 L792.6 397.7 L793.2 397.0 L793.6 397.2 L793.6 395.7 L794.4 396.4 L794.5 396.1 L794.9 397.1 L795.5 396.8 L795.8 396.2 L796.1 396.9 L796.8 396.3 L797.3 395.7 L797.4 393.7 L797.8 392.1 L798.4 391.7 L798.3 391.1 L799.0 389.7 L799.5 389.8 L799.6 389.5 L800.0 388.6 L800.4 388.9 L800.9 388.1 L801.6 387.8 L801.5 387.4 L801.8 385.2 L802.5 384.9 L802.6 383.7 L802.4 383.1 L803.0 381.9 L802.9 381.3 L802.8 378.9 L802.7 378.4 L803.4 377.0 L802.9 375.7 L803.3 374.5 L803.5 374.7 L803.7 373.8 L803.4 372.9 L803.5 371.5 L803.6 369.0 L803.7 368.9 L804.2 366.4 L804.2 367.1 L804.4 365.1 L803.9 363.2 L804.2 361.6 L804.4 361.6 L804.5 361.9 L804.3 365.2 L804.5 364.1 L804.9 365.4 L805.2 367.4 L805.1 367.2 L804.8 369.6 L805.5 369.4 L804.9 371.0 L805.4 371.2 L805.4 373.7 L805.7 374.6 L805.6 376.5 L805.9 377.1 L806.5 378.5 L806.9 380.2 L806.8 381.3 L807.7 382.7 L807.6 383.3 L807.6 382.8 L808.3 382.2 L808.1 380.4 L808.1 379.3 L808.8 378.9 L808.7 377.0 L809.1 375.5 L808.9 374.8 L809.2 372.9 L809.1 374.0 L809.2 375.0 L809.7 376.7 L809.5 377.2 L809.4 378.0 L810.0 379.2 L809.7 380.9 L809.8 382.0 L809.9 382.7 L810.3 384.2 L809.9 385.5 L810.0 386.0 L810.0 388.2 L810.0 388.2 L810.4 388.8 L810.5 389.7 L810.7 388.5 L811.1 387.1 L811.3 385.9 L811.2 385.7 L811.9 384.2 L812.1 383.3 L812.5 384.5 L812.5 384.8 L813.1 385.3 L813.8 384.6 L814.0 384.9 L814.1 384.9 L814.7 385.5 L814.9 385.2 L815.2 384.0 L815.9 383.7 L816.1 383.3 L816.8 382.7 L816.6 381.8 L817.1 381.0 L817.6 379.2 L818.1 379.3 L818.2 378.5 L818.2 379.8 L818.7 381.8 L819.1 381.6 L819.1 382.4 L818.8 384.2 L819.3 384.9 L819.9 385.2 L819.9 387.0 L819.9 387.6 L820.0 389.0 L820.6 389.9 L820.9 391.3 L821.0 390.6 L821.5 389.8 L822.2 390.6 L822.2 390.5 L822.4 391.5 L823.0 390.5 L823.4 389.7 L824.0 390.0 L824.3 391.0 L824.8 390.1 L824.9 389.7 L825.5 392.0 L825.9 392.1 L825.8 393.1 L826.5 394.5 L826.7 393.4 L827.3 391.8 L828.0 390.6 L828.1 389.7 L828.4 388.1 L828.7 387.7 L829.3 385.8 L829.7 384.9 L830.0 384.2 L830.5 382.3 L830.8 382.1 L831.3 380.9 L831.8 380.1 L832.0 379.1 L832.5 378.4 L832.4 378.4 L833.3 377.9 L833.8 377.7 L833.8 376.1 L834.1 376.5 L834.7 376.5 L835.2 377.9 L835.2 377.4 L835.8 379.3 L836.4 379.5 L836.7 379.2 L837.2 380.5 L837.5 380.5 L838.0 380.2 L838.1 380.1 L838.3 381.2 L838.7 381.4 L839.2 380.8 L839.8 381.9 L839.6 382.9 L840.2 383.3 L840.8 383.1 L840.8 383.7 L841.1 383.6 L841.5 382.5 L842.2 383.6 L842.6 383.3 L842.7 383.1 L843.2 381.1 L843.0 379.7 L843.1 378.3 L843.6 378.2 L843.8 376.9 L844.0 375.8 L844.3 374.3 L845.0 372.9 L844.8 373.2 L845.1 374.5 L845.5 376.8 L845.6 377.5 L845.5 377.6 L845.3 379.5 L845.8 381.4 L845.9 382.5 L845.6 382.7 L846.3 384.0 L846.1 384.9 L846.3 384.9 L846.4 387.5 L846.1 388.1 L846.3 389.3 L846.2 390.8 L846.5 391.0 L846.4 392.1 L846.6 393.9 L846.9 392.5 L847.3 391.2 L847.5 391.1 L847.8 389.3 L847.9 390.1 L848.0 391.4 L848.6 393.8 L848.5 393.7 L848.6 395.4 L849.0 395.9 L849.4 396.4 L849.7 397.0 L849.7 398.5 L849.6 399.8 L850.0 401.2 L849.9 401.6 L849.9 402.6 L849.8 403.7 L849.7 404.3 L850.0 406.0 L850.0 407.3 L849.8 408.0 L849.7 408.9 L849.9 410.4 L850.1 410.7 L850.3 412.3 L849.7 412.8 L849.8 414.3 L850.4 414.7 L849.9 416.2 L849.9 416.8 L850.1 418.6 L850.5 419.0 L850.7 420.7 L850.4 421.9 L850.6 422.2 L850.9 423.4 L851.1 424.4 L850.9 426.3 L850.7 427.6 L850.7 428.5 L850.9 430.2 L850.8 430.1 L850.8 430.8 L851.4 431.8 L851.0 432.9 L850.8 434.4 L851.4 434.9 L851.0 436.4 L851.4 437.5 L851.2 439.4 L851.3 440.6 L851.2 441.4 L851.2 442.7 L851.1 444.2 L851.4 444.9 L851.7 442.9 L851.2 442.3 L851.3 442.3 L851.9 441.6 L851.5 439.6 L851.9 438.5 L852.0 436.9 L851.8 436.0 L851.6 435.4 L852.0 434.1 L852.3 433.2 L851.8 431.5 L852.2 430.9 L852.4 430.3 L852.5 429.5 L852.0 427.3 L852.3 426.4 L852.7 425.7 L852.7 423.9 L852.6 423.2 L852.9 421.5 L852.7 421.1 L852.7 420.2 L853.2 421.7 L853.7 423.2 L853.8 422.1 L853.7 420.5 L854.4 419.4 L854.5 418.5 L854.3 416.5 L854.4 415.0 L854.9 415.1 L854.7 414.0 L855.4 412.6 L855.6 412.5 L855.8 412.4 L856.2 410.5 L856.3 410.6 L856.5 408.2 L856.8 406.8 L856.6 406.6 L857.1 405.5 L857.2 407.2 L857.7 408.6 L858.3 409.3 L858.8 409.1 L858.8 409.5 L859.7 409.9 L859.8 410.9 L860.0 411.7 L860.3 413.7 L860.9 414.6 L861.4 414.7 L861.4 414.0 L861.6 413.0 L862.2 411.4 L862.5 410.1 L862.7 409.3 L863.1 407.0 L863.4 406.2 L863.4 405.8 L863.2 405.6 L863.8 404.3 L863.5 401.9 L864.0 401.6 L864.3 401.1 L864.4 401.1 L864.4 399.1 L864.4 398.0 L864.3 396.5 L864.8 395.7 L864.4 394.1 L865.0 392.2 L865.0 391.8 L864.9 390.9 L865.1 389.3 L865.4 388.7 L866.0 387.8 L866.3 386.2 L866.8 386.1 L866.8 385.7 L867.3 383.7 L867.9 383.1 L868.4 382.2 L868.5 383.1 L869.1 383.6 L869.6 382.9 L869.8 383.3 L870.5 383.3 L870.6 382.2 L871.0 381.5 L871.4 380.1 L871.7 382.1 L872.3 383.4 L872.1 383.9 L872.7 384.9 L873.4 383.6 L873.5 384.2 L874.0 381.6 L874.1 381.5 L874.6 380.9 L875.0 379.8 L875.4 379.2 L875.6 377.5 L876.2 377.7 L876.3 377.3 L876.8 375.0 L877.3 375.2 L877.5 373.8 L877.4 371.9 L877.8 370.4 L877.8 368.9 L878.4 368.7 L878.2 366.8 L878.4 367.1 L878.9 365.9 L879.1 364.0 L879.2 362.7 L879.3 362.2 L879.5 359.6 L879.1 359.9 L879.2 359.0 L879.7 357.7 L879.3 357.1 L880.0 355.3 L879.7 354.4 L880.0 352.3 L879.6 351.3 L879.7 349.8 L880.4 350.0 L880.0 348.1 L880.2 347.4 L880.2 347.2 L880.2 347.3 L880.4 345.5 L880.7 343.2" stroke="#0000cc" stroke-width="2.0" fill="none" stroke-linejoin="round" shape-rendering="crispEdges"/>
<path d="M880.5 24V493M14 344.5H896" stroke="#111" stroke-width="1" shape-rendering="crispEdges"/>
</svg>
<svg width="937" height="518" viewBox="0 0 937 518" style="will-change:transform">
<text x="21.1" y="15.8" font-size="14.5" fill="#1a1a1a" text-anchor="start" textLength="237.4" lengthAdjust="spacingAndGlyphs" stroke="#1a1a1a" stroke-width="0.22">Silver Spot (XAG CMPN CURNCY)</text>
<text x="263.4" y="15.8" font-size="14.5" fill="#1a1a1a" text-anchor="start" textLength="61.3" lengthAdjust="spacingAndGlyphs" stroke="#1a1a1a" stroke-width="0.22">21.3038</text>
<text x="329.2" y="15.8" font-size="14.5" fill="#1a1aee" text-anchor="start" textLength="21.6" lengthAdjust="spacingAndGlyphs" stroke="#1a1aee" stroke-width="0.22">1.4</text>
<text x="853.1" y="15.7" font-size="14.5" fill="#262626" text-anchor="start" textLength="75.2" lengthAdjust="spacingAndGlyphs" stroke="#262626" stroke-width="0.1">2020-07-21</text>
<text x="21.3" y="36.6" font-size="12.3" fill="#2a2ad8" text-anchor="start" textLength="27.4" lengthAdjust="spacingAndGlyphs" stroke="none">Daily</text>
<text x="892.0" y="83.5" font-size="11" fill="#333" text-anchor="start" textLength="12.6" lengthAdjust="spacingAndGlyphs" stroke="#333" stroke-width="0.12">45</text>
<text x="892.0" y="138.5" font-size="11" fill="#333" text-anchor="start" textLength="12.6" lengthAdjust="spacingAndGlyphs" stroke="#333" stroke-width="0.12">40</text>
<text x="892.0" y="194.5" font-size="11" fill="#333" text-anchor="start" textLength="12.6" lengthAdjust="spacingAndGlyphs" stroke="#333" stroke-width="0.12">35</text>
<text x="892.0" y="249.5" font-size="11" fill="#333" text-anchor="start" textLength="12.6" lengthAdjust="spacingAndGlyphs" stroke="#333" stroke-width="0.12">30</text>
<text x="892.0" y="305.5" font-size="11" fill="#333" text-anchor="start" textLength="12.6" lengthAdjust="spacingAndGlyphs" stroke="#333" stroke-width="0.12">25</text>
<text x="892.0" y="361.5" font-size="11" fill="#333" text-anchor="start" textLength="12.6" lengthAdjust="spacingAndGlyphs" stroke="#333" stroke-width="0.12">20</text>
<text x="892.0" y="417.5" font-size="11" fill="#333" text-anchor="start" textLength="12.6" lengthAdjust="spacingAndGlyphs" stroke="#333" stroke-width="0.12">15</text>
<text x="59.9" y="478.5" font-size="11.3" fill="#222" text-anchor="middle" textLength="26.8" lengthAdjust="spacingAndGlyphs" stroke="#222" stroke-width="0.12">2011</text>
<text x="145.9" y="478.5" font-size="11.3" fill="#222" text-anchor="middle" textLength="26.8" lengthAdjust="spacingAndGlyphs" stroke="#222" stroke-width="0.12">2012</text>
<text x="231.9" y="478.5" font-size="11.3" fill="#222" text-anchor="middle" textLength="26.8" lengthAdjust="spacingAndGlyphs" stroke="#222" stroke-width="0.12">2013</text>
<text x="318.9" y="478.5" font-size="11.3" fill="#222" text-anchor="middle" textLength="26.8" lengthAdjust="spacingAndGlyphs" stroke="#222" stroke-width="0.12">2014</text>
<text x="403.9" y="478.5" font-size="11.3" fill="#222" text-anchor="middle" textLength="26.8" lengthAdjust="spacingAndGlyphs" stroke="#222" stroke-width="0.12">2015</text>
<text x="490.9" y="478.5" font-size="11.3" fill="#222" text-anchor="middle" textLength="26.8" lengthAdjust="spacingAndGlyphs" stroke="#222" stroke-width="0.12">2016</text>
<text x="576.9" y="478.5" font-size="11.3" fill="#222" text-anchor="middle" textLength="26.8" lengthAdjust="spacingAndGlyphs" stroke="#222" stroke-width="0.12">2017</text>
<text x="661.9" y="478.5" font-size="11.3" fill="#222" text-anchor="middle" textLength="26.8" lengthAdjust="spacingAndGlyphs" stroke="#222" stroke-width="0.12">2018</text>
<text x="747.9" y="478.5" font-size="11.3" fill="#222" text-anchor="middle" textLength="26.8" lengthAdjust="spacingAndGlyphs" stroke="#222" stroke-width="0.12">2019</text>
<text x="833.9" y="478.5" font-size="11.3" fill="#222" text-anchor="middle" textLength="26.8" lengthAdjust="spacingAndGlyphs" stroke="#222" stroke-width="0.12">2020</text>
<text x="12.6" y="501.2" font-size="13.2" fill="#3838ee" text-anchor="start" textLength="180.8" lengthAdjust="spacingAndGlyphs" stroke="none">www.fullertreacymoney.com</text>
<text x="546.3" y="501.8" font-size="12" fill="#a0a0a0" text-anchor="start" textLength="382.5" lengthAdjust="spacingAndGlyphs" stroke="none">This website is &#169; 2008-2020 Fuller Treacy Money plc. All rights reserved</text>
</svg>
<svg width="937" height="518" viewBox="0 0 937 518">
<rect x="895.5" y="334.5" width="42" height="20.5" rx="3" ry="3" fill="#ffffb8" stroke="#cccc70" stroke-width="1"/>
<text x="901.8" y="348.6" font-size="14" fill="#221a1a" text-anchor="start" textLength="29.6" lengthAdjust="spacingAndGlyphs" stroke="none">21.12</text>
<rect x="837.5" y="493.5" width="72.5" height="20.5" rx="3" ry="3" fill="#ffffb8" stroke="#cccc70" stroke-width="1"/>
<text x="843.8" y="507" font-size="13" fill="#221a1a" text-anchor="start" textLength="60.8" lengthAdjust="spacingAndGlyphs" stroke="none">17 Jul 2020</text>
</svg>
</body></html>
